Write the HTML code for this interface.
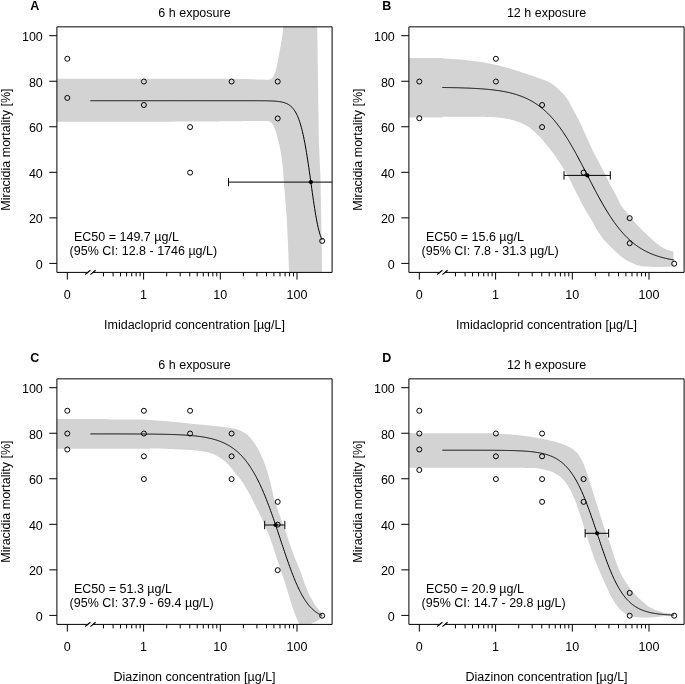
<!DOCTYPE html>
<html><head><meta charset="utf-8"><style>
html,body{margin:0;padding:0;background:#fff;}
svg{display:block;will-change:transform;}
text{font-family:"Liberation Sans",sans-serif;font-size:12.5px;fill:#000;}
</style></head><body>
<svg width="685" height="684" viewBox="0 0 685 684">
<rect width="685" height="684" fill="#fff"/>
<clipPath id="clipA"><rect x="56.9" y="26.85" width="275.2" height="245.55"/></clipPath>
<g fill="#d3d3d3" clip-path="url(#clipA)"><path d="M50,78.8 L50.5,78.8 L51.5,78.8 L52.5,78.8 L53.5,78.8 L54.5,78.8 L55.5,78.8 L56.5,78.8 L57.5,78.8 L58.5,78.8 L59.5,78.8 L60,78.8 L61,78.8 L62,78.8 L63,78.8 L64,78.8 L65,78.8 L66,78.8 L67,78.8 L68,78.8 L69,78.8 L69.5,78.8 L70.5,78.8 L71.5,78.8 L72.5,78.8 L73.5,78.8 L74.5,78.8 L75.5,78.8 L76.5,78.8 L77.5,78.8 L78.5,78.8 L79,78.8 L80,78.8 L81,78.8 L82,78.8 L83,78.8 L84,78.8 L85,78.8 L86,78.8 L87,78.8 L88,78.8 L89,78.8 L89.5,78.8 L90.5,78.8 L91.5,78.8 L92.5,78.8 L93.5,78.8 L94.5,78.8 L95.5,78.8 L96.5,78.8 L97.5,78.8 L98.5,78.8 L99,78.8 L100,78.8 L101,78.8 L102,78.8 L103,78.8 L104,78.8 L105,78.8 L106,78.8 L107,78.8 L108,78.8 L108.5,78.8 L109.5,78.8 L110.5,78.8 L111.5,78.8 L112.5,78.8 L113.5,78.8 L114.5,78.8 L115.5,78.8 L116.5,78.8 L117.5,78.8 L118.5,78.8 L119,78.8 L120,78.8 L121,78.8 L122,78.8 L123,78.8 L124,78.8 L125,78.8 L126,78.8 L127,78.8 L128,78.8 L128.5,78.8 L129.5,78.8 L130.5,78.8 L131.5,78.8 L132.5,78.8 L133.5,78.8 L134.5,78.8 L135.5,78.8 L136.5,78.8 L137.5,78.8 L138,78.8 L139,78.8 L140,78.8 L141,78.8 L142,78.8 L143,78.8 L144,78.8 L145,78.8 L146,78.8 L147,78.8 L148,78.8 L148.5,78.8 L149.5,78.8 L150.5,78.8 L151.5,78.8 L152.5,78.8 L153.5,78.8 L154.5,78.8 L155.5,78.8 L156.5,78.8 L157.5,78.8 L158,78.8 L159,78.8 L160,78.8 L161,78.8 L162,78.8 L163,78.8 L164,78.8 L165,78.8 L166,78.8 L167,78.8 L167.5,78.8 L168.5,78.8 L169.5,78.8 L170.5,78.8 L171.5,78.8 L172.5,78.8 L173.5,78.8 L174.5,78.8 L175.5,78.8 L176.5,78.8 L177.5,78.8 L178,78.8 L179,78.8 L180,78.8 L181,78.8 L182,78.8 L183,78.8 L184,78.8 L185,78.8 L186,78.8 L187,78.8 L187.5,78.8 L188.5,78.8 L189.5,78.8 L190.5,78.8 L191.5,78.8 L192.5,78.8 L193.5,78.8 L194.5,78.8 L195.5,78.8 L196.5,78.8 L197,78.8 L198,78.8 L199,78.8 L200,78.8 L201,78.8 L202,78.8 L203,78.8 L204,78.8 L205,78.8 L206,78.8 L206.5,78.8 L207.5,78.8 L208.5,78.8 L209.5,78.8 L210.5,78.8 L211.5,78.8 L212.5,78.8 L213.5,78.8 L214.5,78.8 L215.5,78.8 L216.5,78.81 L217,78.81 L218,78.82 L219,78.83 L220,78.83 L221,78.84 L222,78.85 L223,78.85 L224,78.86 L225,78.87 L226,78.87 L226.5,78.87 L227.5,78.88 L228.5,78.89 L229.5,78.89 L230.5,78.9 L231.5,78.91 L232.5,78.91 L233.5,78.92 L234.5,78.93 L235.5,78.93 L236,78.94 L237,78.94 L238,78.95 L239,78.96 L240,78.96 L241,78.97 L242,78.98 L243,78.98 L244,78.99 L245,79 L246,79.02 L246.5,79.03 L247.5,79.07 L248.5,79.1 L249.5,79.14 L250.5,79.18 L251.5,79.21 L252.49,79.25 L253.49,79.29 L254.49,79.32 L255.49,79.36 L255.99,79.38 L256.99,79.42 L257.99,79.45 L258.99,79.49 L259.99,79.53 L260.99,79.56 L261.99,79.59 L262.99,79.62 L263.99,79.64 L264.99,79.65 L265.49,79.66 L266.49,79.68 L267.49,79.69 L268.48,79.68 L269.46,79.59 L270.38,79.31 L271.24,78.85 L272,78.25 L272.64,77.51 L273.2,76.69 L273.7,75.83 L273.92,75.39 L274.33,74.48 L274.72,73.55 L275.09,72.63 L275.44,71.69 L275.74,70.74 L276,69.78 L276.24,68.81 L276.47,67.83 L276.71,66.86 L276.82,66.37 L277.02,65.4 L277.21,64.41 L277.4,63.43 L277.58,62.45 L277.76,61.46 L277.94,60.48 L278.13,59.5 L278.31,58.52 L278.49,57.53 L278.58,57.04 L278.77,56.06 L278.95,55.07 L279.13,54.09 L279.31,53.11 L279.5,52.13 L279.69,51.14 L279.89,50.16 L280.08,49.18 L280.28,48.2 L280.48,47.22 L280.57,46.73 L280.76,45.75 L280.94,44.77 L281.1,43.78 L281.26,42.79 L281.41,41.8 L281.56,40.81 L281.72,39.83 L281.87,38.84 L282.01,37.85 L282.08,37.35 L282.21,36.36 L282.34,35.37 L282.47,34.38 L282.59,33.39 L282.72,32.39 L282.84,31.4 L282.95,30.41 L283.05,29.41 L283.14,28.42 L283.18,27.92 L283.23,26.92 L283.28,25.92 L283.32,24.92 L283.36,23.92 L283.4,22.92 L283.44,21.93 L283.48,20.93 L283.52,19.93 L283.56,18.95 L283.6,18 L317.1,18 L317.2,27.5 L317.6,52.5 L318,81 L318.4,109.5 L318.7,138 L319.3,152 L320.5,178.5 L321,207 L321.6,235.5 L322,264 L322,280 L289.3,280 L289.25,278.61 L289.2,277.13 L289.17,276.13 L289.12,274.63 L289.09,273.63 L289.03,272.13 L289,271.13 L288.95,269.63 L288.92,268.63 L288.87,267.13 L288.82,265.63 L288.78,264.63 L288.73,263.13 L288.7,262.13 L288.64,260.64 L288.6,259.64 L288.54,258.14 L288.5,257.14 L288.44,255.64 L288.39,254.14 L288.35,253.14 L288.29,251.64 L288.25,250.64 L288.19,249.14 L288.15,248.15 L288.09,246.65 L288.05,245.65 L287.98,244.15 L287.91,242.65 L287.87,241.65 L287.8,240.15 L287.75,239.15 L287.68,237.66 L287.64,236.66 L287.57,235.16 L287.53,234.16 L287.46,232.66 L287.41,231.66 L287.33,230.16 L287.26,228.67 L287.2,227.67 L287.13,226.17 L287.07,225.17 L287,223.67 L286.94,222.67 L286.87,221.18 L286.81,220.18 L286.73,218.68 L286.65,217.18 L286.6,216.18 L286.49,214.69 L286.41,213.69 L286.3,212.19 L286.22,211.2 L286.1,209.7 L286.02,208.71 L285.91,207.21 L285.79,205.71 L285.71,204.72 L285.6,203.22 L285.52,202.22 L285.4,200.73 L285.32,199.73 L285.19,198.24 L285.11,197.24 L284.98,195.75 L284.89,194.75 L284.77,193.26 L284.64,191.76 L284.56,190.77 L284.43,189.27 L284.34,188.27 L284.22,186.78 L284.14,185.78 L284.03,184.29 L283.96,183.29 L283.86,181.79 L283.76,180.3 L283.69,179.3 L283.59,177.8 L283.52,176.8 L283.42,175.31 L283.36,174.31 L283.26,172.81 L283.19,171.82 L283.07,170.32 L282.92,168.83 L282.81,167.83 L282.65,166.34 L282.54,165.35 L282.36,163.86 L282.24,162.87 L282.05,161.38 L281.92,160.39 L281.73,158.9 L281.6,157.91 L281.39,156.42 L281.16,154.94 L281.01,153.95 L280.77,152.47 L280.62,151.48 L280.36,150.01 L280.17,149.02 L279.87,147.56 L279.66,146.58 L279.35,145.11 L279.03,143.64 L278.8,142.67 L278.45,141.21 L278.21,140.24 L277.86,138.78 L277.62,137.81 L277.23,136.36 L276.96,135.4 L276.53,133.96 L276.11,132.53 L275.81,131.57 L275.32,130.16 L274.95,129.23 L274.38,127.84 L273.99,126.92 L273.32,125.58 L272.84,124.7 L272.08,123.43 L271.47,122.68 L270.29,121.83 L268.94,121.24 L267.98,121.05 L266.49,120.97 L265.49,120.97 L263.99,120.98 L262.99,120.99 L261.49,121 L260.49,121 L258.99,120.99 L257.49,120.99 L256.49,120.98 L254.99,120.98 L253.99,120.98 L252.49,120.97 L251.49,120.97 L249.99,120.96 L248.99,120.96 L247.49,120.96 L245.99,120.97 L244.99,121 L243.49,121.08 L242.5,121.13 L241,121.19 L240,121.21 L238.5,121.22 L237.5,121.23 L236,121.24 L235,121.25 L233.5,121.26 L232,121.27 L231,121.28 L229.5,121.29 L228.5,121.3 L227,121.31 L226,121.32 L224.5,121.33 L223.5,121.34 L222,121.35 L220.5,121.36 L219.5,121.37 L218,121.38 L217,121.38 L215.5,121.4 L214.5,121.4 L213,121.41 L212,121.42 L210.5,121.42 L209,121.43 L208,121.44 L206.5,121.45 L205.5,121.45 L204,121.46 L203,121.46 L201.5,121.47 L200.5,121.48 L199,121.49 L198,121.49 L196.5,121.5 L195,121.51 L194,121.51 L192.5,121.52 L191.5,121.53 L190,121.53 L189,121.54 L187.5,121.55 L186.5,121.55 L185,121.56 L183.5,121.57 L182.5,121.58 L181,121.58 L180,121.59 L178.5,121.6 L177.5,121.6 L176,121.61 L175,121.62 L173.5,121.62 L172,121.63 L171,121.64 L169.5,121.65 L168.5,121.65 L167,121.66 L166,121.66 L164.5,121.67 L163.5,121.68 L162,121.69 L161,121.69 L159.5,121.7 L158,121.71 L157,121.71 L155.5,121.72 L154.5,121.73 L153,121.73 L152,121.74 L150.5,121.75 L149.5,121.75 L148,121.75 L146.5,121.75 L145.5,121.75 L144,121.75 L143,121.75 L141.5,121.75 L140.5,121.75 L139,121.75 L138,121.75 L136.5,121.75 L135,121.75 L134,121.75 L132.5,121.75 L131.5,121.75 L130,121.75 L129,121.75 L127.5,121.75 L126.5,121.75 L125,121.75 L124,121.75 L122.5,121.75 L121,121.75 L120,121.75 L118.5,121.75 L117.5,121.75 L116,121.75 L115,121.75 L113.5,121.75 L112.5,121.75 L111,121.75 L109.5,121.75 L108.5,121.75 L107,121.75 L106,121.75 L104.5,121.75 L103.5,121.75 L102,121.75 L101,121.75 L99.5,121.75 L98,121.75 L97,121.75 L95.5,121.75 L94.5,121.75 L93,121.75 L92,121.75 L90.5,121.75 L89.5,121.75 L88,121.75 L87,121.75 L85.5,121.75 L84,121.75 L83,121.75 L81.5,121.75 L80.5,121.75 L79,121.75 L78,121.75 L76.5,121.75 L75.5,121.75 L74,121.75 L72.5,121.75 L71.5,121.75 L70,121.75 L69,121.75 L67.5,121.75 L66.5,121.75 L65,121.75 L64,121.75 L62.5,121.75 L61,121.75 L60,121.75 L58.5,121.75 L57.5,121.75 L56,121.75 L55,121.75 L53.5,121.75 L52.5,121.75 L51,121.75 L50,121.75Z"/></g>
<path d="M90.4,100.71 L90.98,100.71 L91.56,100.71 L92.14,100.71 L92.72,100.71 L93.3,100.71 L93.89,100.71 L94.47,100.71 L95.05,100.71 L95.63,100.71 L96.21,100.71 L96.79,100.71 L97.37,100.71 L97.95,100.71 L98.53,100.71 L99.11,100.71 L99.7,100.71 L100.28,100.71 L100.86,100.71 L101.44,100.71 L102.02,100.71 L102.6,100.71 L103.18,100.71 L103.76,100.71 L104.34,100.71 L104.92,100.71 L105.5,100.71 L106.09,100.71 L106.67,100.71 L107.25,100.71 L107.83,100.71 L108.41,100.71 L108.99,100.71 L109.57,100.71 L110.15,100.71 L110.73,100.71 L111.31,100.71 L111.9,100.71 L112.48,100.71 L113.06,100.71 L113.64,100.71 L114.22,100.71 L114.8,100.71 L115.38,100.71 L115.96,100.71 L116.54,100.71 L117.12,100.71 L117.7,100.71 L118.29,100.71 L118.87,100.71 L119.45,100.71 L120.03,100.71 L120.61,100.71 L121.19,100.71 L121.77,100.71 L122.35,100.71 L122.93,100.71 L123.51,100.71 L124.1,100.71 L124.68,100.71 L125.26,100.71 L125.84,100.71 L126.42,100.71 L127,100.71 L127.58,100.71 L128.16,100.71 L128.74,100.71 L129.32,100.71 L129.9,100.71 L130.49,100.71 L131.07,100.71 L131.65,100.71 L132.23,100.71 L132.81,100.71 L133.39,100.71 L133.97,100.71 L134.55,100.71 L135.13,100.71 L135.71,100.71 L136.3,100.71 L136.88,100.71 L137.46,100.71 L138.04,100.71 L138.62,100.71 L139.2,100.71 L139.78,100.71 L140.36,100.71 L140.94,100.71 L141.52,100.71 L142.1,100.71 L142.69,100.71 L143.27,100.71 L143.85,100.71 L144.43,100.71 L145.01,100.71 L145.59,100.71 L146.17,100.71 L146.75,100.71 L147.33,100.71 L147.91,100.71 L148.5,100.71 L149.08,100.71 L149.66,100.71 L150.24,100.71 L150.82,100.71 L151.4,100.71 L151.98,100.71 L152.56,100.71 L153.14,100.71 L153.72,100.71 L154.3,100.71 L154.89,100.71 L155.47,100.71 L156.05,100.71 L156.63,100.71 L157.21,100.71 L157.79,100.71 L158.37,100.71 L158.95,100.71 L159.53,100.71 L160.11,100.71 L160.7,100.71 L161.28,100.71 L161.86,100.71 L162.44,100.71 L163.02,100.71 L163.6,100.71 L164.18,100.71 L164.76,100.71 L165.34,100.71 L165.92,100.71 L166.5,100.71 L167.09,100.71 L167.67,100.71 L168.25,100.71 L168.83,100.71 L169.41,100.71 L169.99,100.71 L170.57,100.71 L171.15,100.71 L171.73,100.71 L172.31,100.71 L172.9,100.71 L173.48,100.71 L174.06,100.71 L174.64,100.71 L175.22,100.71 L175.8,100.71 L176.38,100.71 L176.96,100.71 L177.54,100.71 L178.12,100.71 L178.7,100.71 L179.29,100.71 L179.87,100.71 L180.45,100.71 L181.03,100.71 L181.61,100.71 L182.19,100.71 L182.77,100.71 L183.35,100.71 L183.93,100.71 L184.51,100.71 L185.1,100.71 L185.68,100.71 L186.26,100.71 L186.84,100.71 L187.42,100.71 L188,100.71 L188.58,100.71 L189.16,100.71 L189.74,100.71 L190.32,100.71 L190.9,100.71 L191.49,100.71 L192.07,100.71 L192.65,100.71 L193.23,100.71 L193.81,100.71 L194.39,100.71 L194.97,100.71 L195.55,100.71 L196.13,100.71 L196.71,100.71 L197.3,100.71 L197.88,100.71 L198.46,100.71 L199.04,100.71 L199.62,100.71 L200.2,100.71 L200.78,100.71 L201.36,100.71 L201.94,100.71 L202.52,100.71 L203.1,100.71 L203.69,100.71 L204.27,100.71 L204.85,100.71 L205.43,100.71 L206.01,100.71 L206.59,100.71 L207.17,100.71 L207.75,100.71 L208.33,100.71 L208.91,100.71 L209.5,100.71 L210.08,100.71 L210.66,100.71 L211.24,100.71 L211.82,100.71 L212.4,100.71 L212.98,100.71 L213.56,100.71 L214.14,100.71 L214.72,100.71 L215.3,100.71 L215.89,100.71 L216.47,100.71 L217.05,100.71 L217.63,100.71 L218.21,100.71 L218.79,100.71 L219.37,100.71 L219.95,100.71 L220.53,100.71 L221.11,100.71 L221.7,100.71 L222.28,100.71 L222.86,100.71 L223.44,100.71 L224.02,100.71 L224.6,100.71 L225.18,100.71 L225.76,100.71 L226.34,100.71 L226.92,100.71 L227.5,100.71 L228.09,100.71 L228.67,100.71 L229.25,100.71 L229.83,100.71 L230.41,100.71 L230.99,100.71 L231.57,100.71 L232.15,100.71 L232.73,100.71 L233.31,100.71 L233.9,100.71 L234.48,100.71 L235.06,100.71 L235.64,100.71 L236.22,100.71 L236.8,100.71 L237.38,100.71 L237.96,100.71 L238.54,100.71 L239.12,100.71 L239.7,100.71 L240.29,100.71 L240.87,100.71 L241.45,100.71 L242.03,100.71 L242.61,100.71 L243.19,100.71 L243.77,100.71 L244.35,100.71 L244.93,100.71 L245.51,100.71 L246.1,100.71 L246.68,100.71 L247.26,100.72 L247.84,100.72 L248.42,100.72 L249,100.72 L249.58,100.72 L250.16,100.72 L250.74,100.72 L251.32,100.72 L251.9,100.72 L252.49,100.72 L253.07,100.72 L253.65,100.72 L254.23,100.73 L254.81,100.73 L255.39,100.73 L255.97,100.73 L256.55,100.73 L257.13,100.74 L257.71,100.74 L258.3,100.74 L258.88,100.74 L259.46,100.75 L260.04,100.75 L260.62,100.75 L261.2,100.76 L261.78,100.76 L262.36,100.77 L262.94,100.78 L263.52,100.78 L264.1,100.79 L264.69,100.8 L265.27,100.8 L265.85,100.81 L266.43,100.82 L267.01,100.84 L267.59,100.85 L268.17,100.86 L268.75,100.88 L269.33,100.89 L269.91,100.91 L270.5,100.93 L271.08,100.95 L271.66,100.97 L272.24,101 L272.82,101.03 L273.4,101.06 L273.98,101.09 L274.56,101.13 L275.14,101.17 L275.72,101.21 L276.3,101.26 L276.89,101.32 L277.47,101.38 L278.05,101.44 L278.63,101.51 L279.21,101.59 L279.79,101.68 L280.37,101.77 L280.95,101.87 L281.53,101.98 L282.11,102.11 L282.7,102.24 L283.28,102.39 L283.86,102.55 L284.44,102.73 L285.02,102.93 L285.6,103.14 L286.18,103.38 L286.76,103.63 L287.34,103.91 L287.92,104.22 L288.5,104.56 L289.09,104.92 L289.67,105.33 L290.25,105.76 L290.83,106.24 L291.41,106.77 L291.99,107.34 L292.57,107.96 L293.15,108.64 L293.73,109.39 L294.31,110.19 L294.9,111.07 L295.48,112.03 L296.06,113.06 L296.64,114.19 L297.22,115.41 L297.8,116.73 L298.38,118.16 L298.96,119.7 L299.54,121.37 L300.12,123.16 L300.7,125.08 L301.29,127.15 L301.87,129.36 L302.45,131.72 L303.03,134.23 L303.61,136.9 L304.19,139.73 L304.77,142.73 L305.35,145.88 L305.93,149.18 L306.51,152.64 L307.1,156.24 L307.68,159.97 L308.26,163.83 L308.84,167.79 L309.42,171.84 L310,175.95 L310.58,180.12 L311.16,184.31 L311.74,188.49 L312.32,192.65 L312.9,196.75 L313.49,200.77 L314.07,204.68 L314.65,208.46 L315.23,212.09 L315.81,215.55 L316.39,218.82 L316.97,221.89 L317.55,224.74 L318.13,227.38 L318.71,229.81 L319.3,232.02 L319.88,234.01 L320.46,235.8 L321.04,237.4 L321.62,238.82 L322.2,240.07" fill="none" stroke="#000" stroke-width="1" clip-path="url(#clipA)"/>
<circle cx="67.3" cy="58.77" r="2.5" fill="none" stroke="#000" stroke-width="1"/>
<circle cx="67.3" cy="97.93" r="2.5" fill="none" stroke="#000" stroke-width="1"/>
<circle cx="143.9" cy="81.54" r="2.5" fill="none" stroke="#000" stroke-width="1"/>
<circle cx="143.9" cy="104.99" r="2.5" fill="none" stroke="#000" stroke-width="1"/>
<circle cx="190.08" cy="127.08" r="2.5" fill="none" stroke="#000" stroke-width="1"/>
<circle cx="190.08" cy="172.62" r="2.5" fill="none" stroke="#000" stroke-width="1"/>
<circle cx="231.6" cy="81.54" r="2.5" fill="none" stroke="#000" stroke-width="1"/>
<circle cx="277.7" cy="81.54" r="2.5" fill="none" stroke="#000" stroke-width="1"/>
<circle cx="277.7" cy="118.43" r="2.5" fill="none" stroke="#000" stroke-width="1"/>
<circle cx="322.2" cy="240.93" r="2.5" fill="none" stroke="#000" stroke-width="1"/>
<path d="M228.52,182.1H335.1M228.52,177.9V186.3" stroke="#000" stroke-width="1" fill="none" clip-path="url(#clipA)"/>
<circle cx="310.85" cy="182.1" r="2.1" fill="#000"/>
<path d="M56.9,272.4V26.85H332.1V272.4H93.3M87.4,272.4H56.9" fill="none" stroke="#000" stroke-width="1"/>
<path d="M85.2,274.5L90.4,270.3M90.4,274.6L95.6,270.3" stroke="#000" stroke-width="1.2"/>
<path d="M49.3,263.4H56.9M49.3,217.86H56.9M49.3,172.32H56.9M49.3,126.78H56.9M49.3,81.24H56.9M49.3,35.7H56.9M67.3,272.4V279.6M143.6,272.4V279.6M220.3,272.4V279.6M297,272.4V279.6M103.5,272.4V276.4M113.08,272.4V276.4M120.51,272.4V276.4M126.58,272.4V276.4M131.72,272.4V276.4M136.17,272.4V276.4M140.09,272.4V276.4M166.69,272.4V276.4M180.2,272.4V276.4M189.78,272.4V276.4M197.21,272.4V276.4M203.28,272.4V276.4M208.42,272.4V276.4M212.87,272.4V276.4M216.79,272.4V276.4M243.39,272.4V276.4M256.9,272.4V276.4M266.48,272.4V276.4M273.91,272.4V276.4M279.98,272.4V276.4M285.12,272.4V276.4M289.57,272.4V276.4M293.49,272.4V276.4" stroke="#000" stroke-width="1" fill="none"/>
<text x="42.8" y="268.7" text-anchor="end">0</text>
<text x="42.8" y="223.16" text-anchor="end">20</text>
<text x="42.8" y="177.62" text-anchor="end">40</text>
<text x="42.8" y="132.08" text-anchor="end">60</text>
<text x="42.8" y="86.54" text-anchor="end">80</text>
<text x="42.8" y="41" text-anchor="end">100</text>
<text x="67.3" y="299.2" text-anchor="middle">0</text>
<text x="143.6" y="299.2" text-anchor="middle">1</text>
<text x="220.3" y="299.2" text-anchor="middle">10</text>
<text x="297" y="299.2" text-anchor="middle">100</text>
<text x="194.5" y="16.8" text-anchor="middle">6 h exposure</text>
<text x="194.5" y="329" text-anchor="middle">Imidacloprid concentration [µg/L]</text>
<text transform="translate(9.9,149.6) rotate(-90)" text-anchor="middle">Miracidia mortality [%]</text>
<text x="30.3" y="10.4" font-weight="bold" font-size="12">A</text>
<text x="74" y="240.8">EC50 = 149.7 µg/L</text>
<text x="69.6" y="255.1">(95% CI: 12.8 - 1746 µg/L)</text>
<clipPath id="clipB"><rect x="408.9" y="26.85" width="275.2" height="245.55"/></clipPath>
<g fill="#d3d3d3" clip-path="url(#clipB)"><path d="M400,57.9 L442.5,57.9 L442.5,117.6 L400,117.6Z"/><path d="M400,57.9 L401,57.9 L402,57.9 L403.5,57.9 L404.5,57.9 L406,57.9 L407,57.9 L408.5,57.9 L409.5,57.9 L411,57.9 L412,57.9 L413.5,57.9 L414.5,57.9 L416,57.9 L417,57.9 L418,57.9 L419.5,57.9 L420.5,57.9 L422,57.9 L423,57.9 L424.5,57.9 L425.5,57.9 L427,57.93 L428,57.95 L429.5,58 L430.5,58.03 L432,58.07 L433,58.1 L434,58.13 L435.5,58.18 L436.5,58.21 L437.99,58.26 L438.99,58.29 L440.49,58.33 L441.49,58.36 L442.99,58.41 L443.99,58.44 L445.49,58.49 L446.49,58.55 L447.99,58.65 L448.98,58.73 L449.98,58.8 L451.47,58.92 L452.47,58.99 L453.97,59.11 L454.96,59.18 L456.46,59.3 L457.46,59.38 L458.95,59.5 L459.95,59.59 L461.44,59.73 L462.44,59.83 L463.93,59.98 L464.92,60.07 L465.92,60.17 L467.41,60.32 L468.41,60.42 L469.9,60.56 L470.9,60.66 L472.39,60.82 L473.38,60.94 L474.87,61.13 L475.86,61.26 L477.35,61.46 L478.34,61.58 L479.82,61.79 L480.81,61.94 L481.8,62.1 L483.28,62.35 L484.27,62.51 L485.74,62.76 L486.73,62.94 L488.2,63.22 L489.18,63.42 L490.65,63.71 L491.63,63.91 L493.1,64.22 L494.08,64.44 L495.53,64.79 L496.51,65.03 L497.48,65.26 L498.94,65.62 L499.91,65.86 L501.36,66.23 L502.33,66.48 L503.78,66.85 L504.75,67.1 L506.2,67.49 L507.16,67.76 L508.6,68.17 L509.56,68.45 L511,68.87 L511.96,69.16 L512.92,69.44 L514.36,69.87 L515.31,70.16 L516.75,70.6 L517.71,70.89 L519.14,71.33 L520.09,71.65 L521.51,72.13 L522.45,72.46 L523.87,72.96 L524.81,73.29 L526.23,73.78 L527.17,74.11 L528.12,74.44 L529.53,74.93 L530.48,75.26 L531.89,75.75 L532.84,76.08 L534.26,76.56 L535.21,76.88 L536.63,77.36 L537.57,77.68 L538.99,78.17 L539.94,78.49 L541.36,78.99 L542.3,79.32 L543.24,79.64 L544.66,80.15 L545.59,80.51 L546.94,81.15 L547.83,81.6 L549.17,82.29 L550.06,82.74 L551.38,83.44 L552.23,83.96 L553.42,84.86 L554.19,85.5 L555.33,86.47 L556.1,87.11 L556.86,87.76 L558,88.73 L558.75,89.4 L559.83,90.43 L560.54,91.14 L561.6,92.2 L562.31,92.91 L563.36,93.97 L564.04,94.71 L564.99,95.86 L565.6,96.65 L566.52,97.84 L567.12,98.64 L567.69,99.46 L568.46,100.74 L568.94,101.62 L569.65,102.94 L570.12,103.82 L570.83,105.14 L571.3,106.02 L572.01,107.34 L572.49,108.22 L573.2,109.55 L573.67,110.43 L574.38,111.75 L574.85,112.63 L575.31,113.52 L575.99,114.86 L576.45,115.75 L577.12,117.08 L577.58,117.98 L578.26,119.31 L578.71,120.2 L579.39,121.54 L579.84,122.43 L580.52,123.77 L580.97,124.66 L581.62,126.01 L582.04,126.92 L582.44,127.84 L583.05,129.21 L583.45,130.13 L584.06,131.5 L584.46,132.41 L585.07,133.78 L585.47,134.7 L586.08,136.07 L586.48,136.99 L587.09,138.36 L587.49,139.27 L588.11,140.64 L588.53,141.55 L588.95,142.46 L589.58,143.82 L590,144.73 L590.63,146.09 L591.05,146.99 L591.68,148.35 L592.1,149.26 L592.73,150.62 L593.15,151.53 L593.82,152.87 L594.28,153.76 L595,155.08 L595.48,155.95 L595.95,156.83 L596.67,158.15 L597.15,159.03 L597.86,160.35 L598.34,161.23 L599.05,162.55 L599.51,163.43 L600.2,164.77 L600.65,165.66 L601.34,166.99 L601.79,167.89 L602.47,169.22 L602.92,170.11 L603.38,171 L604.06,172.34 L604.51,173.23 L605.18,174.57 L605.63,175.47 L606.29,176.81 L606.74,177.71 L607.4,179.05 L607.85,179.95 L608.51,181.29 L608.96,182.19 L609.62,183.53 L610.07,184.43 L610.54,185.31 L611.26,186.63 L611.75,187.5 L612.48,188.81 L612.97,189.68 L613.71,190.99 L614.2,191.86 L614.93,193.17 L615.42,194.04 L616.14,195.35 L616.59,196.24 L617.25,197.59 L617.68,198.5 L618.1,199.4 L618.75,200.76 L619.18,201.66 L619.82,203.01 L620.25,203.92 L620.95,205.24 L621.5,206.06 L622.43,207.24 L623.06,208.01 L624.01,209.18 L624.64,209.95 L625.59,211.11 L626.22,211.89 L626.84,212.67 L627.76,213.86 L628.37,214.65 L629.29,215.83 L629.9,216.62 L630.82,217.81 L631.44,218.59 L632.41,219.74 L633.08,220.48 L634.09,221.59 L634.77,222.33 L635.78,223.43 L636.46,224.17 L637.14,224.9 L638.18,225.98 L638.89,226.69 L639.95,227.75 L640.65,228.45 L641.71,229.51 L642.42,230.22 L643.48,231.28 L644.19,231.99 L645.25,233.05 L645.96,233.76 L647.02,234.82 L647.73,235.52 L648.45,236.21 L649.55,237.23 L650.3,237.89 L651.42,238.89 L652.17,239.56 L653.29,240.55 L654.05,241.2 L655.2,242.16 L655.98,242.79 L657.14,243.74 L657.92,244.37 L659.1,245.29 L659.92,245.85 L660.77,246.38 L662.05,247.15 L662.91,247.67 L664.21,248.41 L665.1,248.86 L666.49,249.41 L667.43,249.76 L668.85,250.25 L669.8,250.54 L671.24,250.93 L672.18,251.18 L673.4,251.5 L673.4,251.5 L673.4,266.3 L673.4,266.3 L672.08,266.39 L671.11,266.46 L670.12,266.53 L669.12,266.6 L668.12,266.67 L667.13,266.74 L666.13,266.81 L665.13,266.86 L664.13,266.9 L663.13,266.93 L662.13,266.95 L661.13,266.97 L660.13,266.99 L659.13,267 L658.13,267.02 L657.13,267.04 L656.13,267.06 L655.13,267.07 L654.13,267.07 L653.14,267.03 L652.14,266.97 L651.14,266.9 L650.14,266.83 L649.15,266.75 L648.15,266.68 L647.15,266.61 L646.15,266.54 L645.16,266.46 L644.16,266.39 L643.17,266.28 L642.18,266.14 L641.2,265.96 L640.22,265.76 L638.75,265.46 L637.78,265.23 L636.83,264.94 L635.89,264.59 L634.96,264.22 L634.03,263.85 L633.1,263.48 L632.18,263.09 L631.27,262.68 L630.37,262.25 L629.47,261.81 L628.57,261.37 L627.68,260.92 L626.8,260.46 L625.94,259.94 L625.11,259.39 L624.29,258.82 L623.47,258.24 L622.66,257.67 L621.84,257.08 L621.05,256.48 L620.29,255.84 L619.54,255.17 L618.8,254.5 L618.06,253.83 L617.32,253.15 L616.58,252.48 L615.84,251.8 L615.12,251.12 L614.4,250.42 L613.69,249.72 L612.97,249.02 L612.26,248.32 L611.19,247.27 L610.48,246.57 L609.77,245.86 L609.06,245.15 L608.36,244.44 L607.66,243.73 L606.96,243.01 L606.26,242.3 L605.55,241.59 L604.85,240.88 L604.15,240.16 L603.47,239.43 L602.84,238.67 L602.26,237.86 L601.7,237.03 L601.15,236.19 L600.6,235.36 L600.05,234.52 L599.49,233.69 L598.94,232.85 L598.39,232.02 L597.84,231.19 L597.29,230.35 L596.75,229.51 L596.24,228.65 L595.75,227.78 L595.28,226.9 L594.81,226.02 L594.34,225.14 L593.86,224.25 L593.39,223.37 L592.92,222.49 L592.45,221.61 L591.72,220.3 L591.21,219.44 L590.69,218.59 L590.16,217.74 L589.62,216.89 L589.09,216.05 L588.56,215.2 L588.03,214.35 L587.5,213.5 L586.97,212.66 L586.44,211.81 L585.92,210.95 L585.42,210.09 L584.94,209.21 L584.46,208.33 L583.98,207.46 L583.5,206.58 L583.02,205.7 L582.55,204.82 L582.07,203.94 L581.6,203.06 L581.14,202.17 L580.68,201.28 L580.23,200.39 L579.77,199.5 L579.32,198.61 L578.87,197.72 L578.42,196.83 L577.96,195.93 L577.51,195.04 L577.06,194.15 L576.6,193.26 L576.15,192.37 L575.47,191.03 L575.02,190.14 L574.58,189.24 L574.13,188.35 L573.69,187.45 L573.24,186.56 L572.8,185.66 L572.35,184.76 L571.91,183.87 L571.46,182.97 L571.02,182.08 L570.57,181.18 L570.13,180.29 L569.69,179.39 L569.24,178.49 L568.78,177.61 L568.3,176.73 L567.8,175.87 L567.29,175.01 L566.77,174.15 L566.26,173.29 L565.75,172.43 L565.23,171.57 L564.72,170.72 L564.21,169.86 L563.69,169 L563.18,168.14 L562.66,167.29 L562.13,166.44 L561.58,165.6 L561.02,164.78 L560.45,163.95 L559.89,163.13 L559.32,162.3 L558.47,161.07 L557.91,160.24 L557.36,159.41 L556.82,158.56 L556.29,157.72 L555.76,156.87 L555.23,156.02 L554.7,155.17 L554.14,154.34 L553.55,153.54 L552.93,152.75 L552.31,151.97 L551.68,151.2 L551.05,150.42 L550.43,149.64 L549.8,148.86 L549.17,148.08 L548.55,147.3 L547.92,146.52 L547.29,145.75 L546.65,144.97 L546.02,144.2 L545.38,143.43 L544.75,142.66 L544.11,141.88 L543.48,141.11 L542.84,140.34 L542.21,139.57 L541.56,138.8 L540.9,138.05 L540.22,137.33 L539.51,136.62 L538.81,135.91 L537.75,134.85 L537.04,134.14 L536.33,133.43 L535.62,132.73 L534.91,132.03 L534.17,131.36 L533.4,130.72 L532.62,130.1 L531.83,129.48 L531.05,128.86 L530.26,128.24 L529.48,127.62 L528.69,127.01 L527.87,126.44 L527.02,125.93 L526.14,125.46 L525.24,125.01 L524.35,124.55 L523.46,124.1 L522.57,123.65 L521.68,123.2 L520.78,122.76 L519.87,122.36 L518.93,122.02 L517.98,121.72 L517.02,121.42 L516.06,121.13 L515.11,120.84 L514.15,120.55 L513.19,120.26 L512.24,119.97 L511.28,119.67 L510.32,119.4 L508.87,119.06 L507.88,118.9 L506.89,118.76 L505.9,118.62 L504.91,118.48 L503.92,118.35 L502.93,118.21 L501.94,118.07 L500.95,117.94 L499.96,117.8 L498.97,117.67 L497.97,117.53 L496.98,117.41 L495.99,117.31 L494.99,117.25 L493.99,117.21 L492.99,117.17 L491.99,117.14 L490.99,117.1 L489.99,117.06 L489,117.02 L488,116.99 L487,116.95 L486,116.91 L485,116.87 L484,116.84 L483,116.81 L482,116.8 L481,116.8 L480,116.8 L479,116.8 L478,116.8 L477,116.8 L475.5,116.8 L474.5,116.8 L473.5,116.8 L472.5,116.8 L471.5,116.8 L470.5,116.8 L469.5,116.8 L468.5,116.79 L467.5,116.79 L466.5,116.79 L465.5,116.78 L464.5,116.78 L463.5,116.78 L462.5,116.77 L461.5,116.77 L460.5,116.77 L459.5,116.76 L458.5,116.76 L457.5,116.75 L456.5,116.75 L455.5,116.75 L454.5,116.74 L453.5,116.74 L452.5,116.74 L451.5,116.73 L450.5,116.73 L449.5,116.73 L448.5,116.72 L447.5,116.72 L446.5,116.71 L445.5,116.71 L444.5,116.71 L443.5,116.7 L442.5,116.7Z"/></g>
<path d="M442.4,87.48 L442.98,87.49 L443.56,87.5 L444.14,87.51 L444.72,87.51 L445.3,87.52 L445.89,87.53 L446.47,87.54 L447.05,87.55 L447.63,87.56 L448.21,87.57 L448.79,87.58 L449.37,87.59 L449.95,87.6 L450.53,87.61 L451.11,87.62 L451.7,87.63 L452.28,87.64 L452.86,87.65 L453.44,87.67 L454.02,87.68 L454.6,87.69 L455.18,87.71 L455.76,87.72 L456.34,87.73 L456.92,87.75 L457.5,87.76 L458.09,87.78 L458.67,87.79 L459.25,87.81 L459.83,87.82 L460.41,87.84 L460.99,87.86 L461.57,87.87 L462.15,87.89 L462.73,87.91 L463.31,87.93 L463.9,87.95 L464.48,87.97 L465.06,87.99 L465.64,88.01 L466.22,88.03 L466.8,88.05 L467.38,88.07 L467.96,88.1 L468.54,88.12 L469.12,88.14 L469.7,88.17 L470.29,88.19 L470.87,88.22 L471.45,88.25 L472.03,88.27 L472.61,88.3 L473.19,88.33 L473.77,88.36 L474.35,88.39 L474.93,88.42 L475.51,88.45 L476.1,88.49 L476.68,88.52 L477.26,88.55 L477.84,88.59 L478.42,88.62 L479,88.66 L479.58,88.7 L480.16,88.74 L480.74,88.78 L481.32,88.82 L481.9,88.86 L482.49,88.9 L483.07,88.95 L483.65,88.99 L484.23,89.04 L484.81,89.09 L485.39,89.14 L485.97,89.18 L486.55,89.24 L487.13,89.29 L487.71,89.34 L488.3,89.4 L488.88,89.45 L489.46,89.51 L490.04,89.57 L490.62,89.63 L491.2,89.7 L491.78,89.76 L492.36,89.82 L492.94,89.89 L493.52,89.96 L494.1,90.03 L494.69,90.1 L495.27,90.18 L495.85,90.25 L496.43,90.33 L497.01,90.41 L497.59,90.5 L498.17,90.58 L498.75,90.67 L499.33,90.75 L499.91,90.84 L500.5,90.94 L501.08,91.03 L501.66,91.13 L502.24,91.23 L502.82,91.33 L503.4,91.44 L503.98,91.54 L504.56,91.65 L505.14,91.77 L505.72,91.88 L506.3,92 L506.89,92.12 L507.47,92.25 L508.05,92.37 L508.63,92.5 L509.21,92.64 L509.79,92.77 L510.37,92.91 L510.95,93.06 L511.53,93.2 L512.11,93.35 L512.7,93.51 L513.28,93.67 L513.86,93.83 L514.44,93.99 L515.02,94.16 L515.6,94.34 L516.18,94.51 L516.76,94.7 L517.34,94.88 L517.92,95.07 L518.5,95.27 L519.09,95.47 L519.67,95.67 L520.25,95.88 L520.83,96.09 L521.41,96.31 L521.99,96.54 L522.57,96.77 L523.15,97 L523.73,97.24 L524.31,97.48 L524.9,97.74 L525.48,97.99 L526.06,98.25 L526.64,98.52 L527.22,98.8 L527.8,99.08 L528.38,99.36 L528.96,99.66 L529.54,99.96 L530.12,100.26 L530.7,100.58 L531.29,100.9 L531.87,101.22 L532.45,101.56 L533.03,101.9 L533.61,102.25 L534.19,102.6 L534.77,102.97 L535.35,103.34 L535.93,103.72 L536.51,104.11 L537.1,104.5 L537.68,104.91 L538.26,105.32 L538.84,105.74 L539.42,106.17 L540,106.6 L540.58,107.05 L541.16,107.51 L541.74,107.97 L542.32,108.44 L542.9,108.93 L543.49,109.42 L544.07,109.92 L544.65,110.43 L545.23,110.95 L545.81,111.49 L546.39,112.03 L546.97,112.58 L547.55,113.14 L548.13,113.71 L548.71,114.29 L549.3,114.88 L549.88,115.49 L550.46,116.1 L551.04,116.72 L551.62,117.36 L552.2,118 L552.78,118.66 L553.36,119.33 L553.94,120.01 L554.52,120.69 L555.1,121.39 L555.69,122.11 L556.27,122.83 L556.85,123.56 L557.43,124.31 L558.01,125.06 L558.59,125.83 L559.17,126.61 L559.75,127.39 L560.33,128.19 L560.91,129.01 L561.5,129.83 L562.08,130.66 L562.66,131.5 L563.24,132.36 L563.82,133.22 L564.4,134.1 L564.98,134.99 L565.56,135.88 L566.14,136.79 L566.72,137.71 L567.3,138.64 L567.89,139.58 L568.47,140.52 L569.05,141.48 L569.63,142.45 L570.21,143.42 L570.79,144.41 L571.37,145.4 L571.95,146.41 L572.53,147.42 L573.11,148.44 L573.7,149.47 L574.28,150.5 L574.86,151.54 L575.44,152.59 L576.02,153.65 L576.6,154.72 L577.18,155.79 L577.76,156.86 L578.34,157.95 L578.92,159.03 L579.5,160.13 L580.09,161.23 L580.67,162.33 L581.25,163.44 L581.83,164.55 L582.41,165.66 L582.99,166.78 L583.57,167.9 L584.15,169.02 L584.73,170.15 L585.31,171.27 L585.9,172.4 L586.48,173.53 L587.06,174.66 L587.64,175.79 L588.22,176.92 L588.8,178.05 L589.38,179.18 L589.96,180.31 L590.54,181.43 L591.12,182.56 L591.7,183.68 L592.29,184.8 L592.87,185.92 L593.45,187.03 L594.03,188.14 L594.61,189.24 L595.19,190.34 L595.77,191.44 L596.35,192.53 L596.93,193.62 L597.51,194.7 L598.1,195.77 L598.68,196.84 L599.26,197.9 L599.84,198.95 L600.42,200 L601,201.04 L601.58,202.07 L602.16,203.1 L602.74,204.11 L603.32,205.12 L603.9,206.12 L604.49,207.11 L605.07,208.09 L605.65,209.06 L606.23,210.02 L606.81,210.98 L607.39,211.92 L607.97,212.85 L608.55,213.78 L609.13,214.69 L609.71,215.59 L610.3,216.49 L610.88,217.37 L611.46,218.24 L612.04,219.1 L612.62,219.95 L613.2,220.79 L613.78,221.62 L614.36,222.43 L614.94,223.24 L615.52,224.03 L616.1,224.82 L616.69,225.59 L617.27,226.35 L617.85,227.1 L618.43,227.84 L619.01,228.57 L619.59,229.28 L620.17,229.99 L620.75,230.68 L621.33,231.37 L621.91,232.04 L622.5,232.7 L623.08,233.35 L623.66,233.99 L624.24,234.62 L624.82,235.24 L625.4,235.85 L625.98,236.45 L626.56,237.03 L627.14,237.61 L627.72,238.18 L628.3,238.73 L628.89,239.28 L629.47,239.81 L630.05,240.34 L630.63,240.86 L631.21,241.36 L631.79,241.86 L632.37,242.35 L632.95,242.82 L633.53,243.29 L634.11,243.75 L634.7,244.2 L635.28,244.65 L635.86,245.08 L636.44,245.5 L637.02,245.92 L637.6,246.33 L638.18,246.72 L638.76,247.12 L639.34,247.5 L639.92,247.87 L640.5,248.24 L641.09,248.6 L641.67,248.95 L642.25,249.3 L642.83,249.63 L643.41,249.96 L643.99,250.29 L644.57,250.6 L645.15,250.91 L645.73,251.21 L646.31,251.51 L646.9,251.8 L647.48,252.08 L648.06,252.36 L648.64,252.63 L649.22,252.89 L649.8,253.15 L650.38,253.41 L650.96,253.65 L651.54,253.9 L652.12,254.13 L652.7,254.36 L653.29,254.59 L653.87,254.81 L654.45,255.03 L655.03,255.24 L655.61,255.44 L656.19,255.64 L656.77,255.84 L657.35,256.03 L657.93,256.22 L658.51,256.4 L659.1,256.58 L659.68,256.76 L660.26,256.93 L660.84,257.1 L661.42,257.26 L662,257.42 L662.58,257.57 L663.16,257.72 L663.74,257.87 L664.32,258.02 L664.9,258.16 L665.49,258.3 L666.07,258.43 L666.65,258.56 L667.23,258.69 L667.81,258.81 L668.39,258.94 L668.97,259.06 L669.55,259.17 L670.13,259.29 L670.71,259.4 L671.3,259.5 L671.88,259.61 L672.46,259.71 L673.04,259.81 L673.62,259.91 L674.2,260.01" fill="none" stroke="#000" stroke-width="1" clip-path="url(#clipB)"/>
<circle cx="419.3" cy="81.54" r="2.5" fill="none" stroke="#000" stroke-width="1"/>
<circle cx="419.3" cy="118.2" r="2.5" fill="none" stroke="#000" stroke-width="1"/>
<circle cx="495.9" cy="58.77" r="2.5" fill="none" stroke="#000" stroke-width="1"/>
<circle cx="495.9" cy="81.54" r="2.5" fill="none" stroke="#000" stroke-width="1"/>
<circle cx="542.08" cy="104.99" r="2.5" fill="none" stroke="#000" stroke-width="1"/>
<circle cx="542.08" cy="127.08" r="2.5" fill="none" stroke="#000" stroke-width="1"/>
<circle cx="583.6" cy="172.62" r="2.5" fill="none" stroke="#000" stroke-width="1"/>
<circle cx="629.7" cy="218.16" r="2.5" fill="none" stroke="#000" stroke-width="1"/>
<circle cx="629.7" cy="243.21" r="2.5" fill="none" stroke="#000" stroke-width="1"/>
<circle cx="674.2" cy="263.7" r="2.5" fill="none" stroke="#000" stroke-width="1"/>
<path d="M564.02,175.4H610.31M564.02,171.2V179.6M610.31,171.2V179.6" stroke="#000" stroke-width="1" fill="none" clip-path="url(#clipB)"/>
<circle cx="587.4" cy="175.4" r="2.1" fill="#000"/>
<path d="M408.9,272.4V26.85H684.1V272.4H445.3M439.4,272.4H408.9" fill="none" stroke="#000" stroke-width="1"/>
<path d="M437.2,274.5L442.4,270.3M442.4,274.6L447.6,270.3" stroke="#000" stroke-width="1.2"/>
<path d="M401.3,263.4H408.9M401.3,217.86H408.9M401.3,172.32H408.9M401.3,126.78H408.9M401.3,81.24H408.9M401.3,35.7H408.9M419.3,272.4V279.6M495.6,272.4V279.6M572.3,272.4V279.6M649,272.4V279.6M455.5,272.4V276.4M465.08,272.4V276.4M472.51,272.4V276.4M478.58,272.4V276.4M483.72,272.4V276.4M488.17,272.4V276.4M492.09,272.4V276.4M518.69,272.4V276.4M532.2,272.4V276.4M541.78,272.4V276.4M549.21,272.4V276.4M555.28,272.4V276.4M560.42,272.4V276.4M564.87,272.4V276.4M568.79,272.4V276.4M595.39,272.4V276.4M608.9,272.4V276.4M618.48,272.4V276.4M625.91,272.4V276.4M631.98,272.4V276.4M637.12,272.4V276.4M641.57,272.4V276.4M645.49,272.4V276.4" stroke="#000" stroke-width="1" fill="none"/>
<text x="394.8" y="268.7" text-anchor="end">0</text>
<text x="394.8" y="223.16" text-anchor="end">20</text>
<text x="394.8" y="177.62" text-anchor="end">40</text>
<text x="394.8" y="132.08" text-anchor="end">60</text>
<text x="394.8" y="86.54" text-anchor="end">80</text>
<text x="394.8" y="41" text-anchor="end">100</text>
<text x="419.3" y="299.2" text-anchor="middle">0</text>
<text x="495.6" y="299.2" text-anchor="middle">1</text>
<text x="572.3" y="299.2" text-anchor="middle">10</text>
<text x="649" y="299.2" text-anchor="middle">100</text>
<text x="546.5" y="16.8" text-anchor="middle">12 h exposure</text>
<text x="546.5" y="329" text-anchor="middle">Imidacloprid concentration [µg/L]</text>
<text transform="translate(361.9,149.6) rotate(-90)" text-anchor="middle">Miracidia mortality [%]</text>
<text x="382.3" y="10.4" font-weight="bold" font-size="12">B</text>
<text x="426" y="240.8">EC50 = 15.6 µg/L</text>
<text x="421.6" y="255.1">(95% CI: 7.8 - 31.3 µg/L)</text>
<clipPath id="clipC"><rect x="56.9" y="378.85" width="275.2" height="245.55"/></clipPath>
<g fill="#d3d3d3" clip-path="url(#clipC)"><path d="M50,418.9 L51,418.9 L52.5,418.9 L53.5,418.9 L55,418.9 L56.5,418.9 L57.5,418.9 L59,418.9 L60.5,418.9 L61.5,418.9 L63,418.9 L64.5,418.9 L65.5,418.9 L67,418.9 L68.5,418.9 L69.5,418.9 L71,418.9 L72.5,418.9 L73.5,418.9 L75,418.9 L76,418.9 L77.5,418.9 L79,418.9 L80,418.9 L81.5,418.9 L83,418.9 L84,418.9 L85.5,418.9 L87,418.9 L88,418.9 L89.5,418.9 L91,418.9 L92,418.9 L93.5,418.9 L95,418.9 L96,418.9 L97.5,418.9 L99,418.9 L100,418.9 L101.5,418.9 L102.5,418.9 L104,418.9 L105.49,418.92 L106.45,419.03 L107.82,419.34 L109.26,419.49 L110.25,419.5 L111.75,419.5 L113.25,419.5 L114.25,419.5 L115.75,419.5 L117.25,419.5 L118.25,419.5 L119.75,419.5 L121.25,419.5 L122.25,419.5 L123.75,419.5 L124.75,419.5 L126.25,419.5 L127.75,419.5 L128.75,419.5 L130.25,419.5 L131.75,419.5 L132.75,419.5 L134.25,419.5 L135.75,419.5 L136.75,419.5 L138.25,419.5 L139.75,419.52 L140.75,419.55 L142.25,419.62 L143.75,419.7 L144.74,419.75 L146.24,419.83 L147.74,419.91 L148.74,419.97 L150.24,420.05 L151.24,420.1 L152.73,420.19 L154.23,420.29 L155.23,420.36 L156.72,420.47 L158.22,420.59 L159.22,420.66 L160.71,420.78 L162.21,420.89 L163.2,420.97 L164.7,421.08 L166.19,421.2 L167.19,421.29 L168.68,421.44 L170.18,421.58 L171.17,421.68 L172.66,421.83 L173.66,421.93 L175.15,422.08 L176.64,422.23 L177.64,422.33 L179.13,422.47 L180.62,422.62 L181.62,422.72 L183.11,422.87 L184.61,423.01 L185.6,423.11 L187.09,423.26 L188.59,423.4 L189.58,423.5 L191.07,423.65 L192.57,423.8 L193.56,423.9 L195.05,424.04 L196.55,424.19 L197.54,424.29 L199.04,424.44 L200.03,424.54 L201.52,424.69 L203.02,424.83 L204.01,424.93 L205.5,425.08 L207,425.23 L207.99,425.33 L209.48,425.48 L210.98,425.62 L211.97,425.72 L213.46,425.87 L214.96,426.02 L215.95,426.12 L217.44,426.27 L218.94,426.43 L219.93,426.55 L221.42,426.74 L222.41,426.87 L223.9,427.06 L225.38,427.26 L226.37,427.38 L227.86,427.58 L229.34,427.8 L230.33,427.96 L231.81,428.22 L233.29,428.47 L234.27,428.64 L235.73,428.96 L237.16,429.42 L238.09,429.77 L239.5,430.29 L240.9,430.84 L241.81,431.24 L243.12,431.95 L244.4,432.73 L245.24,433.27 L246.45,434.14 L247.2,434.8 L248.28,435.84 L249.35,436.89 L250.06,437.59 L251.06,438.7 L251.99,439.88 L252.61,440.67 L253.52,441.86 L254.43,443.05 L255.01,443.86 L255.79,445.14 L256.53,446.44 L257.03,447.31 L257.76,448.62 L258.49,449.93 L258.95,450.82 L259.63,452.16 L260.3,453.5 L260.75,454.39 L261.41,455.73 L261.85,456.63 L262.45,458.01 L263.01,459.4 L263.38,460.33 L263.94,461.72 L264.49,463.11 L264.86,464.04 L265.4,465.44 L265.89,466.86 L266.19,467.81 L266.63,469.25 L267.07,470.68 L267.36,471.64 L267.81,473.07 L268.24,474.51 L268.51,475.47 L268.9,476.92 L269.15,477.88 L269.53,479.34 L269.9,480.79 L270.16,481.76 L270.53,483.21 L270.9,484.66 L271.13,485.63 L271.46,487.1 L271.78,488.56 L271.99,489.54 L272.31,491.01 L272.63,492.47 L272.84,493.45 L273.16,494.91 L273.48,496.38 L273.7,497.36 L274.04,498.81 L274.47,500.25 L274.79,501.2 L275.28,502.61 L275.61,503.56 L276.1,504.98 L276.6,506.39 L276.92,507.34 L277.41,508.75 L277.91,510.17 L278.23,511.12 L278.73,512.53 L279.22,513.95 L279.55,514.89 L280.06,516.31 L280.56,517.72 L280.9,518.66 L281.4,520.07 L281.9,521.49 L282.24,522.43 L282.74,523.84 L283.08,524.78 L283.58,526.2 L284.08,527.61 L284.42,528.55 L284.91,529.97 L285.41,531.38 L285.74,532.33 L286.23,533.74 L286.73,535.16 L287.06,536.1 L287.55,537.52 L288.05,538.94 L288.38,539.88 L288.87,541.3 L289.37,542.71 L289.7,543.66 L290.2,545.07 L290.71,546.48 L291.04,547.42 L291.55,548.84 L291.88,549.78 L292.39,551.19 L292.89,552.6 L293.23,553.55 L293.73,554.96 L294.24,556.37 L294.59,557.31 L295.15,558.7 L295.72,560.08 L296.11,561 L296.69,562.39 L297.27,563.77 L297.66,564.69 L298.24,566.08 L298.82,567.46 L299.2,568.38 L299.76,569.77 L300.11,570.71 L300.62,572.12 L301.12,573.54 L301.45,574.48 L301.95,575.89 L302.44,577.31 L302.78,578.25 L303.27,579.67 L303.77,581.08 L304.11,582.02 L304.65,583.42 L305.2,584.82 L305.56,585.75 L306.11,587.15 L306.67,588.54 L307.03,589.47 L307.58,590.87 L308.14,592.26 L308.51,593.19 L309.1,594.56 L309.54,595.46 L310.27,596.77 L311.01,598.07 L311.5,598.94 L312.24,600.25 L312.98,601.56 L313.47,602.43 L314.22,603.72 L315.04,604.97 L315.65,605.77 L316.58,606.94 L317.53,608.1 L318.15,608.88 L319.09,610.05 L320.03,611.23 L320.65,612.01 L321.53,613.14 L322.2,614 L322.2,614 L322.8,616.4 L319.7,619.5 L314.7,622 L311,624 L311,630 L300,630 L299.84,628.75 L299.71,627.79 L299.52,626.31 L299.38,625.32 L299.07,623.86 L298.74,622.93 L298.15,621.56 L297.74,620.64 L297.33,619.73 L296.71,618.36 L296.31,617.45 L295.75,616.06 L295.4,615.12 L294.87,613.72 L294.52,612.78 L294,611.37 L293.65,610.44 L293.3,609.5 L292.78,608.09 L292.44,607.15 L291.98,605.72 L291.69,604.77 L291.25,603.34 L290.95,602.38 L290.66,601.42 L290.22,599.99 L289.93,599.03 L289.49,597.6 L289.2,596.64 L288.76,595.21 L288.47,594.25 L288.04,592.81 L287.75,591.86 L287.47,590.9 L287.04,589.46 L286.75,588.5 L286.32,587.06 L286.04,586.11 L285.61,584.67 L285.32,583.71 L285.03,582.75 L284.56,581.33 L284.24,580.38 L283.75,578.96 L283.43,578.02 L282.94,576.6 L282.61,575.65 L282.13,574.24 L281.8,573.29 L281.48,572.34 L280.99,570.93 L280.67,569.98 L280.19,568.56 L279.87,567.61 L279.4,566.18 L279.09,565.23 L278.78,564.28 L278.3,562.86 L277.99,561.91 L277.52,560.49 L277.2,559.54 L276.73,558.11 L276.42,557.16 L275.96,555.74 L275.65,554.79 L275.34,553.83 L274.89,552.41 L274.58,551.45 L274.12,550.02 L273.82,549.07 L273.36,547.64 L273.05,546.69 L272.75,545.74 L272.29,544.31 L271.97,543.36 L271.47,541.95 L271.12,541.02 L270.59,539.61 L270.24,538.68 L269.71,537.27 L269.36,536.34 L269,535.4 L268.48,534 L268.12,533.06 L267.58,531.66 L267.2,530.74 L266.6,529.36 L266.2,528.45 L265.8,527.53 L265.2,526.16 L264.79,525.24 L264.19,523.87 L263.79,522.95 L263.18,521.58 L262.78,520.66 L262.18,519.29 L261.76,518.38 L261.33,517.48 L260.66,516.14 L260.21,515.25 L259.53,513.91 L259.08,513.01 L258.41,511.67 L257.96,510.78 L257.28,509.44 L256.83,508.55 L256.38,507.66 L255.71,506.32 L255.26,505.42 L254.59,504.08 L254.14,503.19 L253.47,501.84 L253.02,500.95 L252.58,500.05 L251.91,498.71 L251.46,497.82 L250.79,496.48 L250.33,495.59 L249.62,494.27 L249.13,493.4 L248.38,492.1 L247.88,491.23 L247.38,490.36 L246.63,489.06 L246.13,488.2 L245.38,486.9 L244.88,486.03 L244.12,484.74 L243.59,483.89 L243.05,483.05 L242.23,481.8 L241.68,480.96 L240.85,479.71 L240.28,478.89 L239.33,477.74 L238.65,477.01 L237.61,475.93 L236.94,475.19 L236.3,474.43 L235.39,473.24 L234.79,472.44 L233.89,471.23 L233.28,470.44 L232.34,469.27 L231.71,468.5 L231.07,467.73 L230.11,466.58 L229.47,465.81 L228.47,464.7 L227.77,463.98 L226.71,462.91 L226.01,462.21 L224.93,461.17 L224.18,460.51 L223.38,459.91 L222.15,459.06 L221.31,458.52 L220.03,457.74 L219.16,457.24 L217.87,456.48 L217,455.98 L216.14,455.48 L214.84,454.73 L213.96,454.27 L212.57,453.73 L211.61,453.45 L210.17,453.04 L209.21,452.78 L207.76,452.37 L206.8,452.11 L205.82,451.88 L204.35,451.63 L203.36,451.5 L201.87,451.3 L200.88,451.17 L199.39,450.98 L198.4,450.85 L197.41,450.72 L195.92,450.53 L194.93,450.4 L193.44,450.22 L192.45,450.12 L190.95,450.01 L189.95,449.96 L188.45,449.88 L187.46,449.83 L186.46,449.77 L184.96,449.69 L183.96,449.64 L182.46,449.56 L181.46,449.51 L179.97,449.43 L178.97,449.38 L177.97,449.33 L176.47,449.27 L175.47,449.22 L173.97,449.15 L172.97,449.11 L171.48,449.04 L170.48,448.99 L168.98,448.92 L167.98,448.88 L166.98,448.83 L165.48,448.78 L164.48,448.75 L162.98,448.7 L161.98,448.67 L160.48,448.62 L159.48,448.59 L157.98,448.55 L156.99,448.52 L155.99,448.49 L154.49,448.45 L153.49,448.43 L151.99,448.48 L150.99,448.54 L149.49,448.64 L148.5,448.7 L147.5,448.75 L146,448.79 L145,448.8 L143.5,448.8 L142.5,448.8 L141,448.8 L140,448.8 L138.5,448.8 L137.5,448.8 L136.5,448.8 L135,448.8 L134,448.8 L132.5,448.8 L131.5,448.8 L130,448.8 L129,448.8 L128,448.8 L126.5,448.8 L125.5,448.8 L124,448.8 L123,448.8 L121.5,448.8 L120.5,448.8 L119,448.8 L118,448.8 L117,448.8 L115.5,448.8 L114.5,448.8 L113,448.8 L112,448.8 L110.5,448.8 L109.5,448.8 L108.5,448.8 L107,448.8 L106,448.8 L104.5,448.8 L103.5,448.8 L102,448.8 L101,448.8 L99.5,448.8 L98.5,448.8 L97.5,448.8 L96,448.8 L95,448.8 L93.5,448.8 L92.5,448.8 L91,448.8 L90,448.8 L89,448.8 L87.5,448.8 L86.5,448.8 L85,448.8 L84,448.8 L82.5,448.8 L81.5,448.8 L80,448.8 L79,448.8 L78,448.8 L76.5,448.8 L75.5,448.8 L74,448.8 L73,448.8 L71.5,448.8 L70.5,448.8 L69.5,448.8 L68,448.8 L67,448.8 L65.5,448.8 L64.5,448.8 L63,448.8 L62,448.8 L60.5,448.8 L59.5,448.8 L58.5,448.8 L57,448.8 L56,448.8 L54.5,448.8 L53.5,448.8 L52,448.8 L51,448.8 L50,448.8Z"/></g>
<path d="M90.4,433.9 L90.98,433.9 L91.56,433.9 L92.14,433.9 L92.72,433.9 L93.3,433.9 L93.89,433.9 L94.47,433.9 L95.05,433.9 L95.63,433.9 L96.21,433.9 L96.79,433.9 L97.37,433.9 L97.95,433.9 L98.53,433.9 L99.11,433.91 L99.7,433.91 L100.28,433.91 L100.86,433.91 L101.44,433.91 L102.02,433.91 L102.6,433.91 L103.18,433.91 L103.76,433.91 L104.34,433.91 L104.92,433.91 L105.5,433.91 L106.09,433.91 L106.67,433.91 L107.25,433.91 L107.83,433.91 L108.41,433.91 L108.99,433.91 L109.57,433.91 L110.15,433.92 L110.73,433.92 L111.31,433.92 L111.9,433.92 L112.48,433.92 L113.06,433.92 L113.64,433.92 L114.22,433.92 L114.8,433.92 L115.38,433.92 L115.96,433.92 L116.54,433.92 L117.12,433.93 L117.7,433.93 L118.29,433.93 L118.87,433.93 L119.45,433.93 L120.03,433.93 L120.61,433.93 L121.19,433.93 L121.77,433.93 L122.35,433.94 L122.93,433.94 L123.51,433.94 L124.1,433.94 L124.68,433.94 L125.26,433.94 L125.84,433.95 L126.42,433.95 L127,433.95 L127.58,433.95 L128.16,433.95 L128.74,433.95 L129.32,433.96 L129.9,433.96 L130.49,433.96 L131.07,433.96 L131.65,433.96 L132.23,433.97 L132.81,433.97 L133.39,433.97 L133.97,433.97 L134.55,433.98 L135.13,433.98 L135.71,433.98 L136.3,433.98 L136.88,433.99 L137.46,433.99 L138.04,433.99 L138.62,434 L139.2,434 L139.78,434 L140.36,434.01 L140.94,434.01 L141.52,434.01 L142.1,434.02 L142.69,434.02 L143.27,434.03 L143.85,434.03 L144.43,434.03 L145.01,434.04 L145.59,434.04 L146.17,434.05 L146.75,434.05 L147.33,434.06 L147.91,434.06 L148.5,434.07 L149.08,434.07 L149.66,434.08 L150.24,434.08 L150.82,434.09 L151.4,434.1 L151.98,434.1 L152.56,434.11 L153.14,434.12 L153.72,434.12 L154.3,434.13 L154.89,434.14 L155.47,434.15 L156.05,434.15 L156.63,434.16 L157.21,434.17 L157.79,434.18 L158.37,434.19 L158.95,434.2 L159.53,434.21 L160.11,434.22 L160.7,434.23 L161.28,434.24 L161.86,434.25 L162.44,434.26 L163.02,434.27 L163.6,434.28 L164.18,434.29 L164.76,434.31 L165.34,434.32 L165.92,434.33 L166.5,434.35 L167.09,434.36 L167.67,434.37 L168.25,434.39 L168.83,434.4 L169.41,434.42 L169.99,434.44 L170.57,434.45 L171.15,434.47 L171.73,434.49 L172.31,434.51 L172.9,434.53 L173.48,434.55 L174.06,434.57 L174.64,434.59 L175.22,434.61 L175.8,434.63 L176.38,434.66 L176.96,434.68 L177.54,434.7 L178.12,434.73 L178.7,434.75 L179.29,434.78 L179.87,434.81 L180.45,434.84 L181.03,434.87 L181.61,434.9 L182.19,434.93 L182.77,434.96 L183.35,434.99 L183.93,435.03 L184.51,435.06 L185.1,435.1 L185.68,435.14 L186.26,435.17 L186.84,435.21 L187.42,435.26 L188,435.3 L188.58,435.34 L189.16,435.39 L189.74,435.43 L190.32,435.48 L190.9,435.53 L191.49,435.58 L192.07,435.63 L192.65,435.69 L193.23,435.74 L193.81,435.8 L194.39,435.86 L194.97,435.92 L195.55,435.98 L196.13,436.04 L196.71,436.11 L197.3,436.18 L197.88,436.25 L198.46,436.32 L199.04,436.4 L199.62,436.47 L200.2,436.55 L200.78,436.64 L201.36,436.72 L201.94,436.81 L202.52,436.9 L203.1,436.99 L203.69,437.08 L204.27,437.18 L204.85,437.28 L205.43,437.39 L206.01,437.5 L206.59,437.61 L207.17,437.72 L207.75,437.84 L208.33,437.96 L208.91,438.08 L209.5,438.21 L210.08,438.34 L210.66,438.48 L211.24,438.62 L211.82,438.76 L212.4,438.91 L212.98,439.07 L213.56,439.22 L214.14,439.39 L214.72,439.55 L215.3,439.73 L215.89,439.9 L216.47,440.09 L217.05,440.27 L217.63,440.47 L218.21,440.67 L218.79,440.87 L219.37,441.08 L219.95,441.3 L220.53,441.53 L221.11,441.76 L221.7,441.99 L222.28,442.24 L222.86,442.49 L223.44,442.75 L224.02,443.01 L224.6,443.29 L225.18,443.57 L225.76,443.86 L226.34,444.16 L226.92,444.46 L227.5,444.78 L228.09,445.1 L228.67,445.44 L229.25,445.78 L229.83,446.13 L230.41,446.5 L230.99,446.87 L231.57,447.25 L232.15,447.65 L232.73,448.05 L233.31,448.47 L233.9,448.9 L234.48,449.33 L235.06,449.79 L235.64,450.25 L236.22,450.73 L236.8,451.21 L237.38,451.72 L237.96,452.23 L238.54,452.76 L239.12,453.31 L239.7,453.86 L240.29,454.44 L240.87,455.02 L241.45,455.63 L242.03,456.24 L242.61,456.88 L243.19,457.53 L243.77,458.19 L244.35,458.88 L244.93,459.58 L245.51,460.3 L246.1,461.03 L246.68,461.78 L247.26,462.56 L247.84,463.35 L248.42,464.15 L249,464.98 L249.58,465.83 L250.16,466.7 L250.74,467.58 L251.32,468.49 L251.9,469.42 L252.49,470.36 L253.07,471.33 L253.65,472.32 L254.23,473.33 L254.81,474.36 L255.39,475.42 L255.97,476.49 L256.55,477.59 L257.13,478.71 L257.71,479.85 L258.3,481.01 L258.88,482.19 L259.46,483.4 L260.04,484.63 L260.62,485.88 L261.2,487.15 L261.78,488.45 L262.36,489.76 L262.94,491.1 L263.52,492.46 L264.1,493.84 L264.69,495.24 L265.27,496.67 L265.85,498.11 L266.43,499.57 L267.01,501.06 L267.59,502.56 L268.17,504.08 L268.75,505.62 L269.33,507.18 L269.91,508.76 L270.5,510.35 L271.08,511.96 L271.66,513.59 L272.24,515.23 L272.82,516.88 L273.4,518.55 L273.98,520.23 L274.56,521.92 L275.14,523.62 L275.72,525.33 L276.3,527.05 L276.89,528.78 L277.47,530.52 L278.05,532.26 L278.63,534.01 L279.21,535.76 L279.79,537.51 L280.37,539.26 L280.95,541.02 L281.53,542.77 L282.11,544.52 L282.7,546.27 L283.28,548.01 L283.86,549.75 L284.44,551.48 L285.02,553.2 L285.6,554.91 L286.18,556.61 L286.76,558.3 L287.34,559.98 L287.92,561.64 L288.5,563.29 L289.09,564.92 L289.67,566.53 L290.25,568.12 L290.83,569.7 L291.41,571.25 L291.99,572.78 L292.57,574.29 L293.15,575.78 L293.73,577.24 L294.31,578.68 L294.9,580.09 L295.48,581.47 L296.06,582.83 L296.64,584.16 L297.22,585.46 L297.8,586.74 L298.38,587.98 L298.96,589.2 L299.54,590.38 L300.12,591.54 L300.7,592.67 L301.29,593.76 L301.87,594.83 L302.45,595.86 L303.03,596.87 L303.61,597.84 L304.19,598.79 L304.77,599.71 L305.35,600.59 L305.93,601.45 L306.51,602.28 L307.1,603.08 L307.68,603.85 L308.26,604.59 L308.84,605.31 L309.42,606 L310,606.66 L310.58,607.3 L311.16,607.91 L311.74,608.49 L312.32,609.06 L312.9,609.6 L313.49,610.11 L314.07,610.61 L314.65,611.08 L315.23,611.53 L315.81,611.96 L316.39,612.37 L316.97,612.77 L317.55,613.14 L318.13,613.5 L318.71,613.84 L319.3,614.16 L319.88,614.46 L320.46,614.76 L321.04,615.03 L321.62,615.29 L322.2,615.54" fill="none" stroke="#000" stroke-width="1" clip-path="url(#clipC)"/>
<circle cx="67.3" cy="410.77" r="2.5" fill="none" stroke="#000" stroke-width="1"/>
<circle cx="67.3" cy="433.54" r="2.5" fill="none" stroke="#000" stroke-width="1"/>
<circle cx="67.3" cy="449.48" r="2.5" fill="none" stroke="#000" stroke-width="1"/>
<circle cx="143.9" cy="410.77" r="2.5" fill="none" stroke="#000" stroke-width="1"/>
<circle cx="143.9" cy="433.54" r="2.5" fill="none" stroke="#000" stroke-width="1"/>
<circle cx="143.9" cy="456.31" r="2.5" fill="none" stroke="#000" stroke-width="1"/>
<circle cx="143.9" cy="479.08" r="2.5" fill="none" stroke="#000" stroke-width="1"/>
<circle cx="190.08" cy="410.77" r="2.5" fill="none" stroke="#000" stroke-width="1"/>
<circle cx="190.08" cy="433.54" r="2.5" fill="none" stroke="#000" stroke-width="1"/>
<circle cx="231.6" cy="433.54" r="2.5" fill="none" stroke="#000" stroke-width="1"/>
<circle cx="231.6" cy="456.31" r="2.5" fill="none" stroke="#000" stroke-width="1"/>
<circle cx="231.6" cy="479.08" r="2.5" fill="none" stroke="#000" stroke-width="1"/>
<circle cx="277.7" cy="501.85" r="2.5" fill="none" stroke="#000" stroke-width="1"/>
<circle cx="277.7" cy="524.62" r="2.5" fill="none" stroke="#000" stroke-width="1"/>
<circle cx="277.7" cy="570.16" r="2.5" fill="none" stroke="#000" stroke-width="1"/>
<circle cx="322.2" cy="615.7" r="2.5" fill="none" stroke="#000" stroke-width="1"/>
<path d="M264.68,525H284.83M264.68,520.8V529.2M284.83,520.8V529.2" stroke="#000" stroke-width="1" fill="none" clip-path="url(#clipC)"/>
<circle cx="275.6" cy="525" r="2.1" fill="#000"/>
<path d="M56.9,624.4V378.85H332.1V624.4H93.3M87.4,624.4H56.9" fill="none" stroke="#000" stroke-width="1"/>
<path d="M85.2,626.5L90.4,622.3M90.4,626.6L95.6,622.3" stroke="#000" stroke-width="1.2"/>
<path d="M49.3,615.4H56.9M49.3,569.86H56.9M49.3,524.32H56.9M49.3,478.78H56.9M49.3,433.24H56.9M49.3,387.7H56.9M67.3,624.4V631.6M143.6,624.4V631.6M220.3,624.4V631.6M297,624.4V631.6M103.5,624.4V628.4M113.08,624.4V628.4M120.51,624.4V628.4M126.58,624.4V628.4M131.72,624.4V628.4M136.17,624.4V628.4M140.09,624.4V628.4M166.69,624.4V628.4M180.2,624.4V628.4M189.78,624.4V628.4M197.21,624.4V628.4M203.28,624.4V628.4M208.42,624.4V628.4M212.87,624.4V628.4M216.79,624.4V628.4M243.39,624.4V628.4M256.9,624.4V628.4M266.48,624.4V628.4M273.91,624.4V628.4M279.98,624.4V628.4M285.12,624.4V628.4M289.57,624.4V628.4M293.49,624.4V628.4" stroke="#000" stroke-width="1" fill="none"/>
<text x="42.8" y="620.7" text-anchor="end">0</text>
<text x="42.8" y="575.16" text-anchor="end">20</text>
<text x="42.8" y="529.62" text-anchor="end">40</text>
<text x="42.8" y="484.08" text-anchor="end">60</text>
<text x="42.8" y="438.54" text-anchor="end">80</text>
<text x="42.8" y="393" text-anchor="end">100</text>
<text x="67.3" y="651.2" text-anchor="middle">0</text>
<text x="143.6" y="651.2" text-anchor="middle">1</text>
<text x="220.3" y="651.2" text-anchor="middle">10</text>
<text x="297" y="651.2" text-anchor="middle">100</text>
<text x="194.5" y="368.8" text-anchor="middle">6 h exposure</text>
<text x="194.5" y="681" text-anchor="middle">Diazinon concentration [µg/L]</text>
<text transform="translate(9.9,501.6) rotate(-90)" text-anchor="middle">Miracidia mortality [%]</text>
<text x="30.3" y="362.4" font-weight="bold" font-size="12">C</text>
<text x="74" y="592.8">EC50 = 51.3 µg/L</text>
<text x="69.6" y="607.1">(95% CI: 37.9 - 69.4 µg/L)</text>
<clipPath id="clipD"><rect x="408.9" y="378.85" width="275.2" height="245.55"/></clipPath>
<g fill="#d3d3d3" clip-path="url(#clipD)"><path d="M400,433.1 L401,433.1 L402.5,433.11 L403.5,433.11 L405,433.11 L406,433.11 L407.5,433.12 L408.5,433.12 L410,433.12 L411,433.12 L412.5,433.13 L413.5,433.13 L415,433.13 L416.5,433.14 L417.5,433.14 L419,433.14 L420,433.14 L421.5,433.15 L422.5,433.15 L424,433.15 L425,433.16 L426.5,433.16 L427.5,433.16 L429,433.16 L430.5,433.17 L431.5,433.17 L433,433.17 L434,433.18 L435.5,433.18 L436.5,433.18 L438,433.18 L439,433.19 L440.5,433.19 L441.5,433.19 L443,433.2 L444,433.2 L445.5,433.2 L447,433.2 L448,433.21 L449.5,433.21 L450.5,433.21 L452,433.22 L453,433.22 L454.5,433.22 L455.5,433.22 L457,433.23 L458,433.23 L459.5,433.23 L461,433.24 L462,433.24 L463.5,433.24 L464.5,433.24 L466,433.25 L467,433.25 L468.5,433.25 L469.5,433.25 L471,433.26 L472,433.26 L473.5,433.26 L474.5,433.27 L476,433.27 L477.5,433.27 L478.5,433.27 L480,433.28 L481,433.28 L482.5,433.28 L483.5,433.29 L485,433.29 L486,433.29 L487.5,433.29 L488.5,433.3 L490,433.32 L491.5,433.37 L492.5,433.41 L494,433.48 L494.99,433.53 L496.49,433.6 L497.49,433.64 L498.99,433.71 L499.99,433.76 L501.49,433.83 L502.49,433.88 L503.98,433.97 L504.98,434.04 L506.48,434.16 L507.97,434.27 L508.97,434.34 L510.46,434.46 L511.46,434.53 L512.96,434.65 L513.95,434.72 L515.45,434.84 L516.45,434.94 L517.93,435.11 L518.93,435.24 L520.41,435.43 L521.9,435.63 L522.89,435.76 L524.38,435.95 L525.37,436.08 L526.86,436.27 L527.85,436.4 L529.34,436.61 L530.33,436.76 L531.81,437 L532.79,437.17 L534.27,437.41 L535.26,437.58 L536.74,437.82 L538.22,438.07 L539.2,438.23 L540.68,438.48 L541.67,438.65 L543.14,438.94 L544.11,439.16 L545.58,439.5 L546.55,439.73 L548.01,440.07 L548.98,440.3 L550.44,440.64 L551.9,440.98 L552.88,441.21 L554.34,441.56 L555.3,441.8 L556.74,442.22 L557.7,442.52 L559.13,442.97 L560.08,443.27 L561.52,443.72 L562.47,444.02 L563.88,444.52 L564.79,444.92 L566.14,445.57 L567.48,446.24 L568.38,446.69 L569.72,447.36 L570.61,447.81 L571.93,448.51 L572.76,449.05 L573.91,450 L574.66,450.67 L575.76,451.68 L576.5,452.36 L577.58,453.39 L578.52,454.54 L579.05,455.38 L579.8,456.68 L580.3,457.55 L581.04,458.85 L581.54,459.71 L582.28,461.02 L582.74,461.9 L583.34,463.28 L583.71,464.2 L584.27,465.6 L584.64,466.53 L585.19,467.92 L585.72,469.32 L586.05,470.27 L586.52,471.69 L586.83,472.64 L587.3,474.07 L587.62,475.02 L588.09,476.44 L588.4,477.39 L588.86,478.82 L589.16,479.77 L589.61,481.2 L590.06,482.63 L590.37,483.58 L590.82,485.02 L591.12,485.97 L591.57,487.4 L591.87,488.35 L592.32,489.78 L592.62,490.74 L593.06,492.17 L593.35,493.13 L593.8,494.56 L594.09,495.52 L594.53,496.95 L594.97,498.38 L595.27,499.34 L595.71,500.77 L596.01,501.73 L596.46,503.16 L596.76,504.11 L597.21,505.54 L597.51,506.5 L597.96,507.93 L598.27,508.88 L598.72,510.31 L599.17,511.74 L599.47,512.69 L599.92,514.13 L600.21,515.08 L600.65,516.52 L600.95,517.47 L601.39,518.91 L601.68,519.86 L602.12,521.29 L602.42,522.25 L602.86,523.68 L603.16,524.64 L603.65,526.05 L604.16,527.47 L604.49,528.41 L605,529.82 L605.34,530.76 L605.84,532.17 L606.18,533.11 L606.7,534.52 L607.06,535.46 L607.59,536.86 L607.94,537.79 L608.48,539.19 L609.01,540.6 L609.37,541.53 L609.9,542.93 L610.25,543.87 L610.72,545.29 L611.01,546.25 L611.44,547.69 L611.72,548.65 L612.15,550.09 L612.43,551.04 L612.85,552.48 L613.14,553.44 L613.61,554.87 L614.09,556.28 L614.42,557.23 L614.91,558.65 L615.24,559.59 L615.73,561.01 L616.06,561.95 L616.57,563.36 L616.92,564.3 L617.48,565.69 L617.85,566.62 L618.41,568.01 L618.96,569.41 L619.33,570.34 L619.9,571.73 L620.29,572.64 L620.96,573.98 L621.45,574.85 L622.19,576.16 L622.68,577.03 L623.42,578.34 L623.91,579.2 L624.67,580.5 L625.21,581.34 L626.05,582.58 L626.89,583.83 L627.45,584.65 L628.3,585.89 L628.88,586.7 L629.78,587.9 L630.39,588.7 L631.3,589.89 L631.91,590.68 L632.83,591.86 L633.47,592.63 L634.47,593.75 L635.49,594.85 L636.17,595.58 L637.21,596.66 L637.92,597.36 L639.03,598.38 L639.77,599.05 L640.88,600.05 L641.63,600.72 L642.75,601.71 L643.51,602.36 L644.66,603.32 L645.43,603.96 L646.58,604.93 L647.74,605.88 L648.53,606.47 L649.81,607.24 L650.7,607.7 L652.04,608.37 L652.93,608.82 L654.28,609.49 L655.18,609.91 L656.57,610.46 L657.52,610.75 L658.97,611.16 L660.41,611.57 L661.37,611.84 L662.82,612.22 L663.8,612.43 L665.27,612.71 L666.26,612.89 L667.73,613.15 L668.72,613.33 L670.2,613.57 L671.19,613.7 L672.62,613.87 L673.8,614 L673.8,614 L673.8,615.4 L673.8,615.4 L672.37,615.49 L671.39,615.56 L669.89,615.65 L668.89,615.72 L667.4,615.82 L666.4,615.89 L664.91,616.04 L663.91,616.16 L662.92,616.27 L661.43,616.45 L660.44,616.57 L658.95,616.74 L657.96,616.86 L656.46,617.02 L655.47,617.11 L653.97,617.21 L652.97,617.27 L651.98,617.33 L650.48,617.42 L649.48,617.48 L647.98,617.57 L646.98,617.62 L645.49,617.65 L644.49,617.62 L642.99,617.54 L641.99,617.48 L641,617.43 L639.5,617.34 L638.5,617.28 L637,617.19 L636.01,617.11 L634.53,616.9 L633.55,616.7 L632.08,616.38 L631.11,616.16 L630.14,615.91 L628.71,615.48 L627.78,615.13 L626.47,614.43 L625.65,613.86 L624.44,612.98 L623.64,612.38 L622.84,611.78 L621.66,610.86 L620.91,610.21 L619.87,609.13 L619.2,608.39 L618.2,607.27 L617.56,606.5 L616.67,605.3 L616.09,604.48 L615.52,603.67 L614.66,602.43 L614.11,601.6 L613.32,600.33 L612.81,599.46 L612.06,598.17 L611.55,597.3 L610.81,596 L610.35,595.12 L609.91,594.22 L609.28,592.86 L608.86,591.95 L608.23,590.59 L607.82,589.68 L607.2,588.31 L606.8,587.39 L606.2,586.02 L605.8,585.1 L605.39,584.19 L604.79,582.81 L604.39,581.9 L603.78,580.53 L603.37,579.62 L602.75,578.25 L602.34,577.34 L601.93,576.43 L601.31,575.06 L600.9,574.15 L600.29,572.78 L599.89,571.86 L599.3,570.48 L598.91,569.56 L598.31,568.19 L597.92,567.27 L597.53,566.35 L596.95,564.96 L596.57,564.04 L596.01,562.65 L595.63,561.72 L595.06,560.33 L594.68,559.41 L594.12,558.02 L593.77,557.08 L593.45,556.13 L592.97,554.71 L592.65,553.76 L592.18,552.34 L591.86,551.39 L591.39,549.97 L591.07,549.02 L590.59,547.6 L590.27,546.65 L589.95,545.71 L589.46,544.29 L589.14,543.34 L588.65,541.92 L588.33,540.97 L587.86,539.55 L587.54,538.6 L587.07,537.18 L586.76,536.23 L586.45,535.28 L585.98,533.85 L585.68,532.9 L585.24,531.46 L584.95,530.51 L584.52,529.07 L584.24,528.11 L583.95,527.15 L583.52,525.72 L583.24,524.76 L582.8,523.32 L582.5,522.37 L582.05,520.94 L581.75,519.98 L581.3,518.55 L581,517.6 L580.7,516.65 L580.24,515.22 L579.94,514.26 L579.49,512.83 L579.18,511.88 L578.7,510.46 L578.37,509.52 L577.87,508.1 L577.53,507.16 L577.2,506.22 L576.7,504.8 L576.37,503.86 L575.87,502.45 L575.51,501.51 L574.95,500.12 L574.55,499.21 L573.96,497.83 L573.56,496.91 L573.17,495.99 L572.57,494.61 L572.18,493.7 L571.58,492.32 L571.15,491.42 L570.44,490.1 L569.93,489.24 L569.42,488.38 L568.66,487.09 L568.15,486.23 L567.37,484.95 L566.81,484.12 L565.91,482.92 L565.29,482.14 L564.35,480.97 L563.69,480.22 L563,479.5 L561.94,478.44 L561.23,477.73 L560.14,476.72 L559.36,476.1 L558.13,475.24 L557.3,474.68 L556.03,473.88 L555.16,473.39 L554.27,472.94 L552.93,472.28 L552.01,471.88 L550.6,471.37 L549.65,471.07 L548.22,470.63 L547.26,470.34 L545.82,469.91 L544.86,469.67 L543.88,469.48 L542.4,469.21 L541.41,469.04 L539.94,468.78 L538.95,468.61 L537.47,468.36 L536.49,468.21 L535.49,468.12 L534,468.06 L533,468.04 L531.5,468.01 L530.5,467.99 L529,467.96 L528,467.94 L526.5,467.91 L525.5,467.89 L524.5,467.87 L523,467.84 L522,467.82 L520.5,467.79 L519.5,467.76 L518,467.73 L517,467.72 L515.5,467.7 L514.5,467.7 L513.5,467.7 L512,467.7 L511,467.7 L509.5,467.7 L508.5,467.7 L507,467.7 L506,467.7 L504.5,467.7 L503.5,467.7 L502.5,467.7 L501,467.7 L500,467.7 L498.5,467.7 L497.5,467.7 L496,467.7 L495,467.7 L493.5,467.7 L492.5,467.7 L491.5,467.7 L490,467.7 L489,467.7 L487.5,467.7 L486.5,467.7 L485,467.7 L484,467.7 L483,467.7 L481.5,467.7 L480.5,467.7 L479,467.7 L478,467.7 L476.5,467.7 L475.5,467.7 L474,467.7 L473,467.7 L472,467.7 L470.5,467.7 L469.5,467.7 L468,467.7 L467,467.7 L465.5,467.7 L464.5,467.7 L463,467.7 L462,467.7 L461,467.7 L459.5,467.7 L458.5,467.7 L457,467.7 L456,467.7 L454.5,467.7 L453.5,467.7 L452,467.7 L451,467.7 L450,467.7 L448.5,467.7 L447.5,467.7 L446,467.7 L445,467.7 L443.5,467.7 L442.5,467.7 L441.5,467.7 L440,467.7 L439,467.7 L437.5,467.7 L436.5,467.7 L435,467.7 L434,467.7 L432.5,467.7 L431.5,467.7 L430.5,467.7 L429,467.7 L428,467.7 L426.5,467.7 L425.5,467.7 L424,467.7 L423,467.7 L421.5,467.7 L420.5,467.7 L419.5,467.7 L418,467.7 L417,467.7 L415.5,467.7 L414.5,467.7 L413,467.7 L412,467.7 L410.5,467.7 L409.5,467.7 L408.5,467.7 L407,467.7 L406,467.7 L404.5,467.7 L403.5,467.7 L402,467.7 L401,467.7 L400,467.7Z"/></g>
<path d="M442.4,450.19 L442.98,450.19 L443.56,450.19 L444.14,450.19 L444.72,450.19 L445.3,450.19 L445.89,450.19 L446.47,450.19 L447.05,450.19 L447.63,450.19 L448.21,450.19 L448.79,450.19 L449.37,450.19 L449.95,450.19 L450.53,450.19 L451.11,450.19 L451.7,450.19 L452.28,450.19 L452.86,450.19 L453.44,450.19 L454.02,450.19 L454.6,450.19 L455.18,450.19 L455.76,450.19 L456.34,450.19 L456.92,450.19 L457.5,450.19 L458.09,450.19 L458.67,450.19 L459.25,450.19 L459.83,450.19 L460.41,450.2 L460.99,450.2 L461.57,450.2 L462.15,450.2 L462.73,450.2 L463.31,450.2 L463.9,450.2 L464.48,450.2 L465.06,450.2 L465.64,450.2 L466.22,450.2 L466.8,450.2 L467.38,450.2 L467.96,450.2 L468.54,450.2 L469.12,450.2 L469.7,450.2 L470.29,450.21 L470.87,450.21 L471.45,450.21 L472.03,450.21 L472.61,450.21 L473.19,450.21 L473.77,450.21 L474.35,450.21 L474.93,450.21 L475.51,450.21 L476.1,450.22 L476.68,450.22 L477.26,450.22 L477.84,450.22 L478.42,450.22 L479,450.22 L479.58,450.22 L480.16,450.23 L480.74,450.23 L481.32,450.23 L481.9,450.23 L482.49,450.23 L483.07,450.23 L483.65,450.24 L484.23,450.24 L484.81,450.24 L485.39,450.24 L485.97,450.25 L486.55,450.25 L487.13,450.25 L487.71,450.25 L488.3,450.26 L488.88,450.26 L489.46,450.26 L490.04,450.27 L490.62,450.27 L491.2,450.27 L491.78,450.28 L492.36,450.28 L492.94,450.28 L493.52,450.29 L494.1,450.29 L494.69,450.3 L495.27,450.3 L495.85,450.31 L496.43,450.31 L497.01,450.32 L497.59,450.32 L498.17,450.33 L498.75,450.33 L499.33,450.34 L499.91,450.35 L500.5,450.35 L501.08,450.36 L501.66,450.37 L502.24,450.38 L502.82,450.38 L503.4,450.39 L503.98,450.4 L504.56,450.41 L505.14,450.42 L505.72,450.43 L506.3,450.44 L506.89,450.45 L507.47,450.46 L508.05,450.47 L508.63,450.49 L509.21,450.5 L509.79,450.51 L510.37,450.53 L510.95,450.54 L511.53,450.56 L512.11,450.57 L512.7,450.59 L513.28,450.6 L513.86,450.62 L514.44,450.64 L515.02,450.66 L515.6,450.68 L516.18,450.7 L516.76,450.72 L517.34,450.74 L517.92,450.77 L518.5,450.79 L519.09,450.82 L519.67,450.84 L520.25,450.87 L520.83,450.9 L521.41,450.93 L521.99,450.96 L522.57,450.99 L523.15,451.03 L523.73,451.06 L524.31,451.1 L524.9,451.14 L525.48,451.18 L526.06,451.22 L526.64,451.26 L527.22,451.31 L527.8,451.35 L528.38,451.4 L528.96,451.45 L529.54,451.51 L530.12,451.56 L530.7,451.62 L531.29,451.68 L531.87,451.74 L532.45,451.81 L533.03,451.88 L533.61,451.95 L534.19,452.02 L534.77,452.1 L535.35,452.18 L535.93,452.26 L536.51,452.35 L537.1,452.44 L537.68,452.53 L538.26,452.63 L538.84,452.73 L539.42,452.83 L540,452.94 L540.58,453.06 L541.16,453.18 L541.74,453.3 L542.32,453.43 L542.9,453.56 L543.49,453.7 L544.07,453.85 L544.65,454 L545.23,454.16 L545.81,454.32 L546.39,454.49 L546.97,454.67 L547.55,454.85 L548.13,455.04 L548.71,455.24 L549.3,455.45 L549.88,455.66 L550.46,455.88 L551.04,456.12 L551.62,456.36 L552.2,456.61 L552.78,456.87 L553.36,457.14 L553.94,457.42 L554.52,457.71 L555.1,458.01 L555.69,458.33 L556.27,458.65 L556.85,458.99 L557.43,459.34 L558.01,459.71 L558.59,460.09 L559.17,460.48 L559.75,460.89 L560.33,461.31 L560.91,461.75 L561.5,462.2 L562.08,462.67 L562.66,463.15 L563.24,463.66 L563.82,464.18 L564.4,464.72 L564.98,465.28 L565.56,465.86 L566.14,466.46 L566.72,467.07 L567.3,467.71 L567.89,468.37 L568.47,469.06 L569.05,469.76 L569.63,470.49 L570.21,471.24 L570.79,472.01 L571.37,472.81 L571.95,473.64 L572.53,474.48 L573.11,475.36 L573.7,476.26 L574.28,477.18 L574.86,478.14 L575.44,479.11 L576.02,480.12 L576.6,481.15 L577.18,482.22 L577.76,483.3 L578.34,484.42 L578.92,485.56 L579.5,486.74 L580.09,487.94 L580.67,489.17 L581.25,490.42 L581.83,491.71 L582.41,493.02 L582.99,494.36 L583.57,495.72 L584.15,497.11 L584.73,498.53 L585.31,499.97 L585.9,501.44 L586.48,502.93 L587.06,504.45 L587.64,505.99 L588.22,507.54 L588.8,509.13 L589.38,510.73 L589.96,512.35 L590.54,513.98 L591.12,515.64 L591.7,517.31 L592.29,518.99 L592.87,520.69 L593.45,522.39 L594.03,524.11 L594.61,525.84 L595.19,527.57 L595.77,529.31 L596.35,531.05 L596.93,532.8 L597.51,534.55 L598.1,536.3 L598.68,538.04 L599.26,539.78 L599.84,541.52 L600.42,543.25 L601,544.97 L601.58,546.68 L602.16,548.39 L602.74,550.07 L603.32,551.75 L603.9,553.41 L604.49,555.05 L605.07,556.68 L605.65,558.29 L606.23,559.88 L606.81,561.44 L607.39,562.99 L607.97,564.51 L608.55,566.01 L609.13,567.48 L609.71,568.93 L610.3,570.36 L610.88,571.75 L611.46,573.12 L612.04,574.47 L612.62,575.78 L613.2,577.07 L613.78,578.33 L614.36,579.56 L614.94,580.76 L615.52,581.93 L616.1,583.07 L616.69,584.19 L617.27,585.27 L617.85,586.33 L618.43,587.36 L619.01,588.36 L619.59,589.33 L620.17,590.27 L620.75,591.19 L621.33,592.08 L621.91,592.94 L622.5,593.78 L623.08,594.59 L623.66,595.38 L624.24,596.14 L624.82,596.87 L625.4,597.58 L625.98,598.27 L626.56,598.94 L627.14,599.58 L627.72,600.2 L628.3,600.8 L628.89,601.38 L629.47,601.94 L630.05,602.48 L630.63,602.99 L631.21,603.49 L631.79,603.98 L632.37,604.44 L632.95,604.89 L633.53,605.32 L634.11,605.74 L634.7,606.13 L635.28,606.52 L635.86,606.89 L636.44,607.24 L637.02,607.59 L637.6,607.91 L638.18,608.23 L638.76,608.53 L639.34,608.83 L639.92,609.11 L640.5,609.37 L641.09,609.63 L641.67,609.88 L642.25,610.12 L642.83,610.35 L643.41,610.57 L643.99,610.78 L644.57,610.98 L645.15,611.17 L645.73,611.36 L646.31,611.54 L646.9,611.71 L647.48,611.87 L648.06,612.03 L648.64,612.18 L649.22,612.33 L649.8,612.46 L650.38,612.6 L650.96,612.72 L651.54,612.85 L652.12,612.96 L652.7,613.07 L653.29,613.18 L653.87,613.28 L654.45,613.38 L655.03,613.48 L655.61,613.57 L656.19,613.65 L656.77,613.74 L657.35,613.82 L657.93,613.89 L658.51,613.96 L659.1,614.03 L659.68,614.1 L660.26,614.16 L660.84,614.23 L661.42,614.28 L662,614.34 L662.58,614.39 L663.16,614.44 L663.74,614.49 L664.32,614.54 L664.9,614.59 L665.49,614.63 L666.07,614.67 L666.65,614.71 L667.23,614.75 L667.81,614.78 L668.39,614.82 L668.97,614.85 L669.55,614.88 L670.13,614.91 L670.71,614.94 L671.3,614.97 L671.88,615 L672.46,615.02 L673.04,615.05 L673.62,615.07 L674.2,615.09" fill="none" stroke="#000" stroke-width="1" clip-path="url(#clipD)"/>
<circle cx="419.3" cy="410.77" r="2.5" fill="none" stroke="#000" stroke-width="1"/>
<circle cx="419.3" cy="433.54" r="2.5" fill="none" stroke="#000" stroke-width="1"/>
<circle cx="419.3" cy="449.48" r="2.5" fill="none" stroke="#000" stroke-width="1"/>
<circle cx="419.3" cy="469.97" r="2.5" fill="none" stroke="#000" stroke-width="1"/>
<circle cx="495.9" cy="433.54" r="2.5" fill="none" stroke="#000" stroke-width="1"/>
<circle cx="495.9" cy="456.31" r="2.5" fill="none" stroke="#000" stroke-width="1"/>
<circle cx="495.9" cy="479.08" r="2.5" fill="none" stroke="#000" stroke-width="1"/>
<circle cx="542.08" cy="433.54" r="2.5" fill="none" stroke="#000" stroke-width="1"/>
<circle cx="542.08" cy="456.31" r="2.5" fill="none" stroke="#000" stroke-width="1"/>
<circle cx="542.08" cy="479.08" r="2.5" fill="none" stroke="#000" stroke-width="1"/>
<circle cx="542.08" cy="501.85" r="2.5" fill="none" stroke="#000" stroke-width="1"/>
<circle cx="583.6" cy="479.08" r="2.5" fill="none" stroke="#000" stroke-width="1"/>
<circle cx="583.6" cy="501.85" r="2.5" fill="none" stroke="#000" stroke-width="1"/>
<circle cx="629.7" cy="592.93" r="2.5" fill="none" stroke="#000" stroke-width="1"/>
<circle cx="629.7" cy="615.7" r="2.5" fill="none" stroke="#000" stroke-width="1"/>
<circle cx="674.2" cy="615.7" r="2.5" fill="none" stroke="#000" stroke-width="1"/>
<path d="M585.13,533.3H608.67M585.13,529.1V537.5M608.67,529.1V537.5" stroke="#000" stroke-width="1" fill="none" clip-path="url(#clipD)"/>
<circle cx="597.1" cy="533.3" r="2.1" fill="#000"/>
<path d="M408.9,624.4V378.85H684.1V624.4H445.3M439.4,624.4H408.9" fill="none" stroke="#000" stroke-width="1"/>
<path d="M437.2,626.5L442.4,622.3M442.4,626.6L447.6,622.3" stroke="#000" stroke-width="1.2"/>
<path d="M401.3,615.4H408.9M401.3,569.86H408.9M401.3,524.32H408.9M401.3,478.78H408.9M401.3,433.24H408.9M401.3,387.7H408.9M419.3,624.4V631.6M495.6,624.4V631.6M572.3,624.4V631.6M649,624.4V631.6M455.5,624.4V628.4M465.08,624.4V628.4M472.51,624.4V628.4M478.58,624.4V628.4M483.72,624.4V628.4M488.17,624.4V628.4M492.09,624.4V628.4M518.69,624.4V628.4M532.2,624.4V628.4M541.78,624.4V628.4M549.21,624.4V628.4M555.28,624.4V628.4M560.42,624.4V628.4M564.87,624.4V628.4M568.79,624.4V628.4M595.39,624.4V628.4M608.9,624.4V628.4M618.48,624.4V628.4M625.91,624.4V628.4M631.98,624.4V628.4M637.12,624.4V628.4M641.57,624.4V628.4M645.49,624.4V628.4" stroke="#000" stroke-width="1" fill="none"/>
<text x="394.8" y="620.7" text-anchor="end">0</text>
<text x="394.8" y="575.16" text-anchor="end">20</text>
<text x="394.8" y="529.62" text-anchor="end">40</text>
<text x="394.8" y="484.08" text-anchor="end">60</text>
<text x="394.8" y="438.54" text-anchor="end">80</text>
<text x="394.8" y="393" text-anchor="end">100</text>
<text x="419.3" y="651.2" text-anchor="middle">0</text>
<text x="495.6" y="651.2" text-anchor="middle">1</text>
<text x="572.3" y="651.2" text-anchor="middle">10</text>
<text x="649" y="651.2" text-anchor="middle">100</text>
<text x="546.5" y="368.8" text-anchor="middle">12 h exposure</text>
<text x="546.5" y="681" text-anchor="middle">Diazinon concentration [µg/L]</text>
<text transform="translate(361.9,501.6) rotate(-90)" text-anchor="middle">Miracidia mortality [%]</text>
<text x="382.3" y="362.4" font-weight="bold" font-size="12">D</text>
<text x="426" y="592.8">EC50 = 20.9 µg/L</text>
<text x="421.6" y="607.1">(95% CI: 14.7 - 29.8 µg/L)</text>
</svg></body></html>
